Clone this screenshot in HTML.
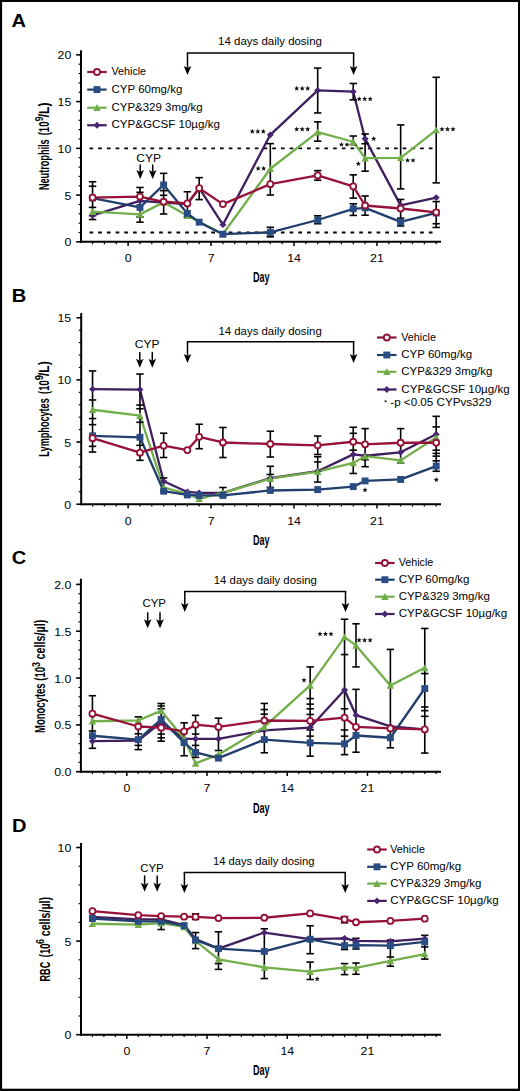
<!DOCTYPE html><html><head><meta charset="utf-8"><style>html,body{margin:0;padding:0;background:#fff;}svg{display:block;}</style></head><body>
<svg width="520" height="1091" viewBox="0 0 520 1091" font-family='"Liberation Sans", sans-serif'>
<rect x="0" y="0" width="520" height="1091" fill="#fff"/>
<text transform="translate(11.6,26.6) scale(1.14,1)" font-size="17.6" font-weight="bold">A</text>
<line x1="81.00" y1="50.20" x2="81.00" y2="242.85" stroke="#000" stroke-width="2.0"/>
<line x1="76.20" y1="241.85" x2="81.00" y2="241.85" stroke="#000" stroke-width="1.6"/>
<line x1="78.60" y1="232.50" x2="81.00" y2="232.50" stroke="#000" stroke-width="1.2"/>
<line x1="78.60" y1="223.15" x2="81.00" y2="223.15" stroke="#000" stroke-width="1.2"/>
<line x1="78.60" y1="213.80" x2="81.00" y2="213.80" stroke="#000" stroke-width="1.2"/>
<line x1="78.60" y1="204.45" x2="81.00" y2="204.45" stroke="#000" stroke-width="1.2"/>
<line x1="76.20" y1="195.10" x2="81.00" y2="195.10" stroke="#000" stroke-width="1.6"/>
<line x1="78.60" y1="185.75" x2="81.00" y2="185.75" stroke="#000" stroke-width="1.2"/>
<line x1="78.60" y1="176.40" x2="81.00" y2="176.40" stroke="#000" stroke-width="1.2"/>
<line x1="78.60" y1="167.05" x2="81.00" y2="167.05" stroke="#000" stroke-width="1.2"/>
<line x1="78.60" y1="157.70" x2="81.00" y2="157.70" stroke="#000" stroke-width="1.2"/>
<line x1="76.20" y1="148.35" x2="81.00" y2="148.35" stroke="#000" stroke-width="1.6"/>
<line x1="78.60" y1="139.00" x2="81.00" y2="139.00" stroke="#000" stroke-width="1.2"/>
<line x1="78.60" y1="129.65" x2="81.00" y2="129.65" stroke="#000" stroke-width="1.2"/>
<line x1="78.60" y1="120.30" x2="81.00" y2="120.30" stroke="#000" stroke-width="1.2"/>
<line x1="78.60" y1="110.95" x2="81.00" y2="110.95" stroke="#000" stroke-width="1.2"/>
<line x1="76.20" y1="101.60" x2="81.00" y2="101.60" stroke="#000" stroke-width="1.6"/>
<line x1="78.60" y1="92.25" x2="81.00" y2="92.25" stroke="#000" stroke-width="1.2"/>
<line x1="78.60" y1="82.90" x2="81.00" y2="82.90" stroke="#000" stroke-width="1.2"/>
<line x1="78.60" y1="73.55" x2="81.00" y2="73.55" stroke="#000" stroke-width="1.2"/>
<line x1="78.60" y1="64.20" x2="81.00" y2="64.20" stroke="#000" stroke-width="1.2"/>
<line x1="76.20" y1="54.85" x2="81.00" y2="54.85" stroke="#000" stroke-width="1.6"/>
<text transform="translate(71.3,246.35) scale(1.12,1)" font-size="11.0" text-anchor="end">0</text>
<text transform="translate(71.3,199.60) scale(1.12,1)" font-size="11.0" text-anchor="end">5</text>
<text transform="translate(71.3,152.85) scale(1.12,1)" font-size="11.0" text-anchor="end">10</text>
<text transform="translate(71.3,106.10) scale(1.12,1)" font-size="11.0" text-anchor="end">15</text>
<text transform="translate(71.3,59.35) scale(1.12,1)" font-size="11.0" text-anchor="end">20</text>
<line x1="80.00" y1="241.85" x2="441.00" y2="241.85" stroke="#000" stroke-width="2.0"/>
<line x1="92.55" y1="241.85" x2="92.55" y2="244.25" stroke="#000" stroke-width="1.2"/>
<line x1="104.40" y1="241.85" x2="104.40" y2="244.25" stroke="#000" stroke-width="1.2"/>
<line x1="116.25" y1="241.85" x2="116.25" y2="244.25" stroke="#000" stroke-width="1.2"/>
<line x1="128.10" y1="241.85" x2="128.10" y2="246.05" stroke="#000" stroke-width="1.5"/>
<line x1="139.95" y1="241.85" x2="139.95" y2="244.25" stroke="#000" stroke-width="1.2"/>
<line x1="151.80" y1="241.85" x2="151.80" y2="244.25" stroke="#000" stroke-width="1.2"/>
<line x1="163.65" y1="241.85" x2="163.65" y2="244.25" stroke="#000" stroke-width="1.2"/>
<line x1="175.50" y1="241.85" x2="175.50" y2="244.25" stroke="#000" stroke-width="1.2"/>
<line x1="187.35" y1="241.85" x2="187.35" y2="244.25" stroke="#000" stroke-width="1.2"/>
<line x1="199.20" y1="241.85" x2="199.20" y2="244.25" stroke="#000" stroke-width="1.2"/>
<line x1="211.05" y1="241.85" x2="211.05" y2="246.05" stroke="#000" stroke-width="1.5"/>
<line x1="222.90" y1="241.85" x2="222.90" y2="244.25" stroke="#000" stroke-width="1.2"/>
<line x1="234.75" y1="241.85" x2="234.75" y2="244.25" stroke="#000" stroke-width="1.2"/>
<line x1="246.60" y1="241.85" x2="246.60" y2="244.25" stroke="#000" stroke-width="1.2"/>
<line x1="258.45" y1="241.85" x2="258.45" y2="244.25" stroke="#000" stroke-width="1.2"/>
<line x1="270.30" y1="241.85" x2="270.30" y2="244.25" stroke="#000" stroke-width="1.2"/>
<line x1="282.15" y1="241.85" x2="282.15" y2="244.25" stroke="#000" stroke-width="1.2"/>
<line x1="294.00" y1="241.85" x2="294.00" y2="246.05" stroke="#000" stroke-width="1.5"/>
<line x1="305.85" y1="241.85" x2="305.85" y2="244.25" stroke="#000" stroke-width="1.2"/>
<line x1="317.70" y1="241.85" x2="317.70" y2="244.25" stroke="#000" stroke-width="1.2"/>
<line x1="329.55" y1="241.85" x2="329.55" y2="244.25" stroke="#000" stroke-width="1.2"/>
<line x1="341.40" y1="241.85" x2="341.40" y2="244.25" stroke="#000" stroke-width="1.2"/>
<line x1="353.25" y1="241.85" x2="353.25" y2="244.25" stroke="#000" stroke-width="1.2"/>
<line x1="365.10" y1="241.85" x2="365.10" y2="244.25" stroke="#000" stroke-width="1.2"/>
<line x1="376.95" y1="241.85" x2="376.95" y2="246.05" stroke="#000" stroke-width="1.5"/>
<line x1="388.80" y1="241.85" x2="388.80" y2="244.25" stroke="#000" stroke-width="1.2"/>
<line x1="400.65" y1="241.85" x2="400.65" y2="244.25" stroke="#000" stroke-width="1.2"/>
<line x1="412.50" y1="241.85" x2="412.50" y2="244.25" stroke="#000" stroke-width="1.2"/>
<line x1="424.35" y1="241.85" x2="424.35" y2="244.25" stroke="#000" stroke-width="1.2"/>
<line x1="436.20" y1="241.85" x2="436.20" y2="244.25" stroke="#000" stroke-width="1.2"/>
<text transform="translate(128.10,262.0) scale(1.12,1)" font-size="11.0" text-anchor="middle">0</text>
<text transform="translate(211.05,262.0) scale(1.12,1)" font-size="11.0" text-anchor="middle">7</text>
<text transform="translate(294.00,262.0) scale(1.12,1)" font-size="11.0" text-anchor="middle">14</text>
<text transform="translate(376.95,262.0) scale(1.12,1)" font-size="11.0" text-anchor="middle">21</text>
<text x="252.90" y="282.4" font-size="14.6" font-weight="bold" textLength="16.6" lengthAdjust="spacingAndGlyphs">Day</text>
<g transform="translate(48.75,0) rotate(-90)" font-weight="bold">
<text x="-190.05" y="0" font-size="14.8" textLength="50.70" lengthAdjust="spacingAndGlyphs">Neutrophils</text>
<text x="-135.35" y="0" font-size="14.8" textLength="13.90" lengthAdjust="spacingAndGlyphs">(10</text>
<text x="-121.25" y="-5.4" font-size="10" textLength="4.70" lengthAdjust="spacingAndGlyphs">9</text>
<text x="-117.25" y="0" font-size="14.8" textLength="14.80" lengthAdjust="spacingAndGlyphs">/L)</text>
</g>
<line x1="89.5" y1="148.35" x2="436.70" y2="148.35" stroke="#000" stroke-width="1.8" stroke-dasharray="3.7,5.0"/>
<line x1="89.5" y1="232.50" x2="436.70" y2="232.50" stroke="#000" stroke-width="1.8" stroke-dasharray="3.7,5.0"/>
<line x1="186.75" y1="53.10" x2="354.35" y2="53.10" stroke="#000" stroke-width="1.5"/>
<line x1="187.50" y1="53.10" x2="187.50" y2="68.10" stroke="#000" stroke-width="1.5"/>
<polygon points="183.70,66.10 187.50,68.10 191.30,66.10 187.50,75.10" fill="#000"/>
<line x1="353.60" y1="53.10" x2="353.60" y2="68.10" stroke="#000" stroke-width="1.5"/>
<polygon points="349.80,66.10 353.60,68.10 357.40,66.10 353.60,75.10" fill="#000"/>
<text x="218.10" y="45.2" font-size="10.2" textLength="103.8" lengthAdjust="spacingAndGlyphs">14 days daily dosing</text>
<line x1="140.20" y1="164.50" x2="140.20" y2="172.00" stroke="#000" stroke-width="1.5"/>
<polygon points="136.40,170.00 140.20,172.00 144.00,170.00 140.20,179.00" fill="#000"/>
<line x1="152.70" y1="164.50" x2="152.70" y2="172.00" stroke="#000" stroke-width="1.5"/>
<polygon points="148.90,170.00 152.70,172.00 156.50,170.00 152.70,179.00" fill="#000"/>
<text x="136.30" y="161.5" font-size="10.3" textLength="24.7" lengthAdjust="spacingAndGlyphs">CYP</text>
<polyline points="92.55,215.32 139.95,200.83 163.65,202.70 187.35,204.10 199.20,188.20 222.90,224.67 270.30,134.82 317.70,90.40 353.25,91.71 365.10,138.84 400.65,205.41 436.20,197.56" fill="none" stroke="#3F1F5E" stroke-width="2.3" stroke-linejoin="round"/>
<polyline points="92.55,211.58 139.95,214.38 163.65,202.23 187.35,215.79 222.90,234.02 270.30,168.76 317.70,132.11 353.25,141.74 365.10,158.10 400.65,157.82 436.20,130.05" fill="none" stroke="#72AE4A" stroke-width="2.3" stroke-linejoin="round"/>
<polyline points="92.55,198.02 139.95,207.37 163.65,184.93 187.35,213.45 199.20,222.15 222.90,234.21 270.30,232.34 317.70,220.00 353.25,208.78 365.10,207.84 400.65,221.87 436.20,212.98" fill="none" stroke="#213E6C" stroke-width="2.3" stroke-linejoin="round"/>
<polyline points="92.55,197.56 139.95,196.62 163.65,201.76 187.35,203.45 199.20,188.20 222.90,204.10 270.30,184.18 317.70,175.40 353.25,186.34 365.10,205.50 400.65,208.49 436.20,212.33" fill="none" stroke="#971138" stroke-width="2.3" stroke-linejoin="round"/>
<line x1="92.55" y1="181.75" x2="92.55" y2="219.53" stroke="#000" stroke-width="1.6"/>
<line x1="88.85" y1="181.75" x2="96.25" y2="181.75" stroke="#000" stroke-width="1.6"/>
<line x1="88.85" y1="186.24" x2="96.25" y2="186.24" stroke="#000" stroke-width="1.6"/>
<line x1="88.85" y1="207.37" x2="96.25" y2="207.37" stroke="#000" stroke-width="1.6"/>
<line x1="88.85" y1="215.69" x2="96.25" y2="215.69" stroke="#000" stroke-width="1.6"/>
<line x1="88.85" y1="219.53" x2="96.25" y2="219.53" stroke="#000" stroke-width="1.6"/>
<line x1="139.95" y1="187.46" x2="139.95" y2="222.15" stroke="#000" stroke-width="1.6"/>
<line x1="136.25" y1="187.46" x2="143.65" y2="187.46" stroke="#000" stroke-width="1.6"/>
<line x1="136.25" y1="192.32" x2="143.65" y2="192.32" stroke="#000" stroke-width="1.6"/>
<line x1="136.25" y1="217.00" x2="143.65" y2="217.00" stroke="#000" stroke-width="1.6"/>
<line x1="136.25" y1="222.15" x2="143.65" y2="222.15" stroke="#000" stroke-width="1.6"/>
<line x1="163.65" y1="173.34" x2="163.65" y2="214.01" stroke="#000" stroke-width="1.6"/>
<line x1="159.95" y1="173.34" x2="167.35" y2="173.34" stroke="#000" stroke-width="1.6"/>
<line x1="159.95" y1="190.64" x2="167.35" y2="190.64" stroke="#000" stroke-width="1.6"/>
<line x1="159.95" y1="195.31" x2="167.35" y2="195.31" stroke="#000" stroke-width="1.6"/>
<line x1="159.95" y1="214.01" x2="167.35" y2="214.01" stroke="#000" stroke-width="1.6"/>
<line x1="187.35" y1="191.76" x2="187.35" y2="217.19" stroke="#000" stroke-width="1.6"/>
<line x1="183.65" y1="191.76" x2="191.05" y2="191.76" stroke="#000" stroke-width="1.6"/>
<line x1="183.65" y1="217.19" x2="191.05" y2="217.19" stroke="#000" stroke-width="1.6"/>
<line x1="199.20" y1="177.64" x2="199.20" y2="199.61" stroke="#000" stroke-width="1.6"/>
<line x1="195.50" y1="177.64" x2="202.90" y2="177.64" stroke="#000" stroke-width="1.6"/>
<line x1="195.50" y1="199.61" x2="202.90" y2="199.61" stroke="#000" stroke-width="1.6"/>
<line x1="270.30" y1="143.61" x2="270.30" y2="195.03" stroke="#000" stroke-width="1.6"/>
<line x1="266.60" y1="143.61" x2="274.00" y2="143.61" stroke="#000" stroke-width="1.6"/>
<line x1="266.60" y1="195.03" x2="274.00" y2="195.03" stroke="#000" stroke-width="1.6"/>
<line x1="270.30" y1="227.29" x2="270.30" y2="236.82" stroke="#000" stroke-width="1.6"/>
<line x1="266.60" y1="227.29" x2="274.00" y2="227.29" stroke="#000" stroke-width="1.6"/>
<line x1="266.60" y1="236.82" x2="274.00" y2="236.82" stroke="#000" stroke-width="1.6"/>
<line x1="317.70" y1="68.06" x2="317.70" y2="112.94" stroke="#000" stroke-width="1.6"/>
<line x1="314.00" y1="68.06" x2="321.40" y2="68.06" stroke="#000" stroke-width="1.6"/>
<line x1="314.00" y1="112.94" x2="321.40" y2="112.94" stroke="#000" stroke-width="1.6"/>
<line x1="317.70" y1="121.82" x2="317.70" y2="141.17" stroke="#000" stroke-width="1.6"/>
<line x1="314.00" y1="121.82" x2="321.40" y2="121.82" stroke="#000" stroke-width="1.6"/>
<line x1="314.00" y1="141.17" x2="321.40" y2="141.17" stroke="#000" stroke-width="1.6"/>
<line x1="317.70" y1="170.63" x2="317.70" y2="180.26" stroke="#000" stroke-width="1.6"/>
<line x1="314.00" y1="170.63" x2="321.40" y2="170.63" stroke="#000" stroke-width="1.6"/>
<line x1="314.00" y1="180.26" x2="321.40" y2="180.26" stroke="#000" stroke-width="1.6"/>
<line x1="317.70" y1="215.79" x2="317.70" y2="223.74" stroke="#000" stroke-width="1.6"/>
<line x1="314.00" y1="215.79" x2="321.40" y2="215.79" stroke="#000" stroke-width="1.6"/>
<line x1="314.00" y1="223.74" x2="321.40" y2="223.74" stroke="#000" stroke-width="1.6"/>
<line x1="353.25" y1="83.49" x2="353.25" y2="99.85" stroke="#000" stroke-width="1.6"/>
<line x1="349.55" y1="83.49" x2="356.95" y2="83.49" stroke="#000" stroke-width="1.6"/>
<line x1="349.55" y1="99.85" x2="356.95" y2="99.85" stroke="#000" stroke-width="1.6"/>
<line x1="353.25" y1="136.03" x2="353.25" y2="144.63" stroke="#000" stroke-width="1.6"/>
<line x1="349.55" y1="136.03" x2="356.95" y2="136.03" stroke="#000" stroke-width="1.6"/>
<line x1="349.55" y1="144.63" x2="356.95" y2="144.63" stroke="#000" stroke-width="1.6"/>
<line x1="353.25" y1="174.83" x2="353.25" y2="198.12" stroke="#000" stroke-width="1.6"/>
<line x1="349.55" y1="174.83" x2="356.95" y2="174.83" stroke="#000" stroke-width="1.6"/>
<line x1="349.55" y1="198.12" x2="356.95" y2="198.12" stroke="#000" stroke-width="1.6"/>
<line x1="353.25" y1="203.82" x2="353.25" y2="215.41" stroke="#000" stroke-width="1.6"/>
<line x1="349.55" y1="203.82" x2="356.95" y2="203.82" stroke="#000" stroke-width="1.6"/>
<line x1="349.55" y1="215.41" x2="356.95" y2="215.41" stroke="#000" stroke-width="1.6"/>
<line x1="365.10" y1="133.98" x2="365.10" y2="171.19" stroke="#000" stroke-width="1.6"/>
<line x1="361.40" y1="133.98" x2="368.80" y2="133.98" stroke="#000" stroke-width="1.6"/>
<line x1="361.40" y1="143.70" x2="368.80" y2="143.70" stroke="#000" stroke-width="1.6"/>
<line x1="361.40" y1="171.19" x2="368.80" y2="171.19" stroke="#000" stroke-width="1.6"/>
<line x1="365.10" y1="195.97" x2="365.10" y2="215.23" stroke="#000" stroke-width="1.6"/>
<line x1="361.40" y1="195.97" x2="368.80" y2="195.97" stroke="#000" stroke-width="1.6"/>
<line x1="361.40" y1="215.23" x2="368.80" y2="215.23" stroke="#000" stroke-width="1.6"/>
<line x1="400.65" y1="124.91" x2="400.65" y2="188.86" stroke="#000" stroke-width="1.6"/>
<line x1="396.95" y1="124.91" x2="404.35" y2="124.91" stroke="#000" stroke-width="1.6"/>
<line x1="396.95" y1="188.86" x2="404.35" y2="188.86" stroke="#000" stroke-width="1.6"/>
<line x1="400.65" y1="199.43" x2="400.65" y2="225.98" stroke="#000" stroke-width="1.6"/>
<line x1="396.95" y1="199.43" x2="404.35" y2="199.43" stroke="#000" stroke-width="1.6"/>
<line x1="396.95" y1="218.12" x2="404.35" y2="218.12" stroke="#000" stroke-width="1.6"/>
<line x1="396.95" y1="225.98" x2="404.35" y2="225.98" stroke="#000" stroke-width="1.6"/>
<line x1="436.20" y1="77.31" x2="436.20" y2="182.88" stroke="#000" stroke-width="1.6"/>
<line x1="432.50" y1="77.31" x2="439.90" y2="77.31" stroke="#000" stroke-width="1.6"/>
<line x1="432.50" y1="182.88" x2="439.90" y2="182.88" stroke="#000" stroke-width="1.6"/>
<line x1="436.20" y1="201.58" x2="436.20" y2="227.47" stroke="#000" stroke-width="1.6"/>
<line x1="432.50" y1="201.58" x2="439.90" y2="201.58" stroke="#000" stroke-width="1.6"/>
<line x1="432.50" y1="223.74" x2="439.90" y2="223.74" stroke="#000" stroke-width="1.6"/>
<line x1="432.50" y1="227.47" x2="439.90" y2="227.47" stroke="#000" stroke-width="1.6"/>
<polygon points="92.55,211.92 96.05,215.32 92.55,218.72 89.05,215.32" fill="#482573"/>
<polygon points="139.95,197.43 143.45,200.83 139.95,204.23 136.45,200.83" fill="#482573"/>
<polygon points="163.65,199.30 167.15,202.70 163.65,206.10 160.15,202.70" fill="#482573"/>
<polygon points="187.35,200.70 190.85,204.10 187.35,207.50 183.85,204.10" fill="#482573"/>
<polygon points="199.20,184.80 202.70,188.20 199.20,191.60 195.70,188.20" fill="#482573"/>
<polygon points="222.90,221.27 226.40,224.67 222.90,228.07 219.40,224.67" fill="#482573"/>
<polygon points="270.30,131.42 273.80,134.82 270.30,138.22 266.80,134.82" fill="#482573"/>
<polygon points="317.70,87.00 321.20,90.40 317.70,93.80 314.20,90.40" fill="#482573"/>
<polygon points="353.25,88.31 356.75,91.71 353.25,95.11 349.75,91.71" fill="#482573"/>
<polygon points="365.10,135.44 368.60,138.84 365.10,142.24 361.60,138.84" fill="#482573"/>
<polygon points="400.65,202.01 404.15,205.41 400.65,208.81 397.15,205.41" fill="#482573"/>
<polygon points="436.20,194.16 439.70,197.56 436.20,200.96 432.70,197.56" fill="#482573"/>
<polygon points="88.85,214.88 96.25,214.88 92.55,207.98" fill="#70AC48"/>
<polygon points="136.25,217.69 143.65,217.69 139.95,210.78" fill="#70AC48"/>
<polygon points="159.95,205.53 167.35,205.53 163.65,198.63" fill="#70AC48"/>
<polygon points="183.65,219.09 191.05,219.09 187.35,212.19" fill="#70AC48"/>
<polygon points="219.20,237.32 226.60,237.32 222.90,230.42" fill="#70AC48"/>
<polygon points="266.60,172.06 274.00,172.06 270.30,165.16" fill="#70AC48"/>
<polygon points="314.00,135.41 321.40,135.41 317.70,128.51" fill="#70AC48"/>
<polygon points="349.55,145.04 356.95,145.04 353.25,138.14" fill="#70AC48"/>
<polygon points="361.40,161.40 368.80,161.40 365.10,154.50" fill="#70AC48"/>
<polygon points="396.95,161.12 404.35,161.12 400.65,154.22" fill="#70AC48"/>
<polygon points="432.50,133.35 439.90,133.35 436.20,126.45" fill="#70AC48"/>
<rect x="89.10" y="194.57" width="6.90" height="6.90" fill="#2A4C84"/>
<rect x="136.50" y="203.92" width="6.90" height="6.90" fill="#2A4C84"/>
<rect x="160.20" y="181.48" width="6.90" height="6.90" fill="#2A4C84"/>
<rect x="183.90" y="210.00" width="6.90" height="6.90" fill="#2A4C84"/>
<rect x="195.75" y="218.70" width="6.90" height="6.90" fill="#2A4C84"/>
<rect x="219.45" y="230.76" width="6.90" height="6.90" fill="#2A4C84"/>
<rect x="266.85" y="228.89" width="6.90" height="6.90" fill="#2A4C84"/>
<rect x="314.25" y="216.55" width="6.90" height="6.90" fill="#2A4C84"/>
<rect x="349.80" y="205.33" width="6.90" height="6.90" fill="#2A4C84"/>
<rect x="361.65" y="204.39" width="6.90" height="6.90" fill="#2A4C84"/>
<rect x="397.20" y="218.42" width="6.90" height="6.90" fill="#2A4C84"/>
<rect x="432.75" y="209.53" width="6.90" height="6.90" fill="#2A4C84"/>
<circle cx="92.55" cy="197.56" r="3.00" fill="#fff" stroke="#931236" stroke-width="1.8"/>
<circle cx="139.95" cy="196.62" r="3.00" fill="#fff" stroke="#931236" stroke-width="1.8"/>
<circle cx="163.65" cy="201.76" r="3.00" fill="#fff" stroke="#931236" stroke-width="1.8"/>
<circle cx="187.35" cy="203.45" r="3.00" fill="#fff" stroke="#931236" stroke-width="1.8"/>
<circle cx="199.20" cy="188.20" r="3.00" fill="#fff" stroke="#931236" stroke-width="1.8"/>
<circle cx="222.90" cy="204.10" r="3.00" fill="#fff" stroke="#931236" stroke-width="1.8"/>
<circle cx="270.30" cy="184.18" r="3.00" fill="#fff" stroke="#931236" stroke-width="1.8"/>
<circle cx="317.70" cy="175.40" r="3.00" fill="#fff" stroke="#931236" stroke-width="1.8"/>
<circle cx="353.25" cy="186.34" r="3.00" fill="#fff" stroke="#931236" stroke-width="1.8"/>
<circle cx="365.10" cy="205.50" r="3.00" fill="#fff" stroke="#931236" stroke-width="1.8"/>
<circle cx="400.65" cy="208.49" r="3.00" fill="#fff" stroke="#931236" stroke-width="1.8"/>
<circle cx="436.20" cy="212.33" r="3.00" fill="#fff" stroke="#931236" stroke-width="1.8"/>
<polygon points="252.30,128.80 253.01,130.53 254.87,130.67 253.44,131.87 253.89,133.68 252.30,132.70 250.71,133.68 251.16,131.87 249.73,130.67 251.59,130.53" fill="#111"/>
<polygon points="257.80,128.80 258.51,130.53 260.37,130.67 258.94,131.87 259.39,133.68 257.80,132.70 256.21,133.68 256.66,131.87 255.23,130.67 257.09,130.53" fill="#111"/>
<polygon points="263.30,128.80 264.01,130.53 265.87,130.67 264.44,131.87 264.89,133.68 263.30,132.70 261.71,133.68 262.16,131.87 260.73,130.67 262.59,130.53" fill="#111"/>
<polygon points="258.15,165.80 258.86,167.53 260.72,167.67 259.29,168.87 259.74,170.68 258.15,169.70 256.56,170.68 257.01,168.87 255.58,167.67 257.44,167.53" fill="#111"/>
<polygon points="263.65,165.80 264.36,167.53 266.22,167.67 264.79,168.87 265.24,170.68 263.65,169.70 262.06,170.68 262.51,168.87 261.08,167.67 262.94,167.53" fill="#111"/>
<polygon points="296.70,85.80 297.41,87.53 299.27,87.67 297.84,88.87 298.29,90.68 296.70,89.70 295.11,90.68 295.56,88.87 294.13,87.67 295.99,87.53" fill="#111"/>
<polygon points="302.20,85.80 302.91,87.53 304.77,87.67 303.34,88.87 303.79,90.68 302.20,89.70 300.61,90.68 301.06,88.87 299.63,87.67 301.49,87.53" fill="#111"/>
<polygon points="307.70,85.80 308.41,87.53 310.27,87.67 308.84,88.87 309.29,90.68 307.70,89.70 306.11,90.68 306.56,88.87 305.13,87.67 306.99,87.53" fill="#111"/>
<polygon points="296.70,126.50 297.41,128.23 299.27,128.37 297.84,129.57 298.29,131.38 296.70,130.40 295.11,131.38 295.56,129.57 294.13,128.37 295.99,128.23" fill="#111"/>
<polygon points="302.20,126.50 302.91,128.23 304.77,128.37 303.34,129.57 303.79,131.38 302.20,130.40 300.61,131.38 301.06,129.57 299.63,128.37 301.49,128.23" fill="#111"/>
<polygon points="307.70,126.50 308.41,128.23 310.27,128.37 308.84,129.57 309.29,131.38 307.70,130.40 306.11,131.38 306.56,129.57 305.13,128.37 306.99,128.23" fill="#111"/>
<polygon points="359.20,96.30 359.91,98.03 361.77,98.17 360.34,99.37 360.79,101.18 359.20,100.20 357.61,101.18 358.06,99.37 356.63,98.17 358.49,98.03" fill="#111"/>
<polygon points="364.70,96.30 365.41,98.03 367.27,98.17 365.84,99.37 366.29,101.18 364.70,100.20 363.11,101.18 363.56,99.37 362.13,98.17 363.99,98.03" fill="#111"/>
<polygon points="370.20,96.30 370.91,98.03 372.77,98.17 371.34,99.37 371.79,101.18 370.20,100.20 368.61,101.18 369.06,99.37 367.63,98.17 369.49,98.03" fill="#111"/>
<polygon points="341.45,141.90 342.16,143.63 344.02,143.77 342.59,144.97 343.04,146.78 341.45,145.80 339.86,146.78 340.31,144.97 338.88,143.77 340.74,143.63" fill="#111"/>
<polygon points="346.95,141.90 347.66,143.63 349.52,143.77 348.09,144.97 348.54,146.78 346.95,145.80 345.36,146.78 345.81,144.97 344.38,143.77 346.24,143.63" fill="#111"/>
<polygon points="373.70,136.10 374.41,137.83 376.27,137.97 374.84,139.17 375.29,140.98 373.70,140.00 372.11,140.98 372.56,139.17 371.13,137.97 372.99,137.83" fill="#111"/>
<polygon points="358.30,161.10 359.01,162.83 360.87,162.97 359.44,164.17 359.89,165.98 358.30,165.00 356.71,165.98 357.16,164.17 355.73,162.97 357.59,162.83" fill="#111"/>
<polygon points="407.55,157.70 408.26,159.43 410.12,159.57 408.69,160.77 409.14,162.58 407.55,161.60 405.96,162.58 406.41,160.77 404.98,159.57 406.84,159.43" fill="#111"/>
<polygon points="413.05,157.70 413.76,159.43 415.62,159.57 414.19,160.77 414.64,162.58 413.05,161.60 411.46,162.58 411.91,160.77 410.48,159.57 412.34,159.43" fill="#111"/>
<polygon points="442.00,126.50 442.71,128.23 444.57,128.37 443.14,129.57 443.59,131.38 442.00,130.40 440.41,131.38 440.86,129.57 439.43,128.37 441.29,128.23" fill="#111"/>
<polygon points="447.50,126.50 448.21,128.23 450.07,128.37 448.64,129.57 449.09,131.38 447.50,130.40 445.91,131.38 446.36,129.57 444.93,128.37 446.79,128.23" fill="#111"/>
<polygon points="453.00,126.50 453.71,128.23 455.57,128.37 454.14,129.57 454.59,131.38 453.00,130.40 451.41,131.38 451.86,129.57 450.43,128.37 452.29,128.23" fill="#111"/>
<line x1="87.20" y1="72.00" x2="106.70" y2="72.00" stroke="#931236" stroke-width="2.2"/>
<circle cx="97.00" cy="72.00" r="3.00" fill="#fff" stroke="#931236" stroke-width="1.8"/>
<text x="111.5" y="75.00" font-size="11.0" textLength="34.6" lengthAdjust="spacingAndGlyphs">Vehicle</text>
<line x1="87.20" y1="89.60" x2="106.70" y2="89.60" stroke="#213E6C" stroke-width="2.2"/>
<rect x="93.55" y="86.15" width="6.90" height="6.90" fill="#2A4C84"/>
<text x="111.5" y="92.60" font-size="11.0" textLength="70.8" lengthAdjust="spacingAndGlyphs">CYP 60mg/kg</text>
<line x1="87.20" y1="107.70" x2="106.70" y2="107.70" stroke="#72AE4A" stroke-width="2.2"/>
<polygon points="93.30,111.00 100.70,111.00 97.00,104.10" fill="#70AC48"/>
<text x="111.5" y="110.70" font-size="11.0" textLength="91.1" lengthAdjust="spacingAndGlyphs">CYP&amp;329 3mg/kg</text>
<line x1="87.20" y1="125.25" x2="106.70" y2="125.25" stroke="#3F1F5E" stroke-width="2.2"/>
<polygon points="97.00,121.85 100.50,125.25 97.00,128.65 93.50,125.25" fill="#482573"/>
<text x="111.5" y="128.25" font-size="11.0" textLength="108.4" lengthAdjust="spacingAndGlyphs">CYP&amp;GCSF 10µg/kg</text>
<text transform="translate(11.8,301.5) scale(1.14,1)" font-size="17.6" font-weight="bold">B</text>
<line x1="81.20" y1="313.00" x2="81.20" y2="505.20" stroke="#000" stroke-width="2.0"/>
<line x1="76.40" y1="504.20" x2="81.20" y2="504.20" stroke="#000" stroke-width="1.6"/>
<line x1="78.80" y1="491.77" x2="81.20" y2="491.77" stroke="#000" stroke-width="1.2"/>
<line x1="78.80" y1="479.34" x2="81.20" y2="479.34" stroke="#000" stroke-width="1.2"/>
<line x1="78.80" y1="466.91" x2="81.20" y2="466.91" stroke="#000" stroke-width="1.2"/>
<line x1="78.80" y1="454.48" x2="81.20" y2="454.48" stroke="#000" stroke-width="1.2"/>
<line x1="76.40" y1="442.05" x2="81.20" y2="442.05" stroke="#000" stroke-width="1.6"/>
<line x1="78.80" y1="429.62" x2="81.20" y2="429.62" stroke="#000" stroke-width="1.2"/>
<line x1="78.80" y1="417.19" x2="81.20" y2="417.19" stroke="#000" stroke-width="1.2"/>
<line x1="78.80" y1="404.76" x2="81.20" y2="404.76" stroke="#000" stroke-width="1.2"/>
<line x1="78.80" y1="392.33" x2="81.20" y2="392.33" stroke="#000" stroke-width="1.2"/>
<line x1="76.40" y1="379.90" x2="81.20" y2="379.90" stroke="#000" stroke-width="1.6"/>
<line x1="78.80" y1="367.47" x2="81.20" y2="367.47" stroke="#000" stroke-width="1.2"/>
<line x1="78.80" y1="355.04" x2="81.20" y2="355.04" stroke="#000" stroke-width="1.2"/>
<line x1="78.80" y1="342.61" x2="81.20" y2="342.61" stroke="#000" stroke-width="1.2"/>
<line x1="78.80" y1="330.18" x2="81.20" y2="330.18" stroke="#000" stroke-width="1.2"/>
<line x1="76.40" y1="317.75" x2="81.20" y2="317.75" stroke="#000" stroke-width="1.6"/>
<text transform="translate(71.2,508.70) scale(1.12,1)" font-size="11.0" text-anchor="end">0</text>
<text transform="translate(71.2,446.55) scale(1.12,1)" font-size="11.0" text-anchor="end">5</text>
<text transform="translate(71.2,384.40) scale(1.12,1)" font-size="11.0" text-anchor="end">10</text>
<text transform="translate(71.2,322.25) scale(1.12,1)" font-size="11.0" text-anchor="end">15</text>
<line x1="80.20" y1="504.20" x2="441.00" y2="504.20" stroke="#000" stroke-width="2.0"/>
<line x1="92.55" y1="504.20" x2="92.55" y2="506.60" stroke="#000" stroke-width="1.2"/>
<line x1="104.40" y1="504.20" x2="104.40" y2="506.60" stroke="#000" stroke-width="1.2"/>
<line x1="116.25" y1="504.20" x2="116.25" y2="506.60" stroke="#000" stroke-width="1.2"/>
<line x1="128.10" y1="504.20" x2="128.10" y2="508.40" stroke="#000" stroke-width="1.5"/>
<line x1="139.95" y1="504.20" x2="139.95" y2="506.60" stroke="#000" stroke-width="1.2"/>
<line x1="151.80" y1="504.20" x2="151.80" y2="506.60" stroke="#000" stroke-width="1.2"/>
<line x1="163.65" y1="504.20" x2="163.65" y2="506.60" stroke="#000" stroke-width="1.2"/>
<line x1="175.50" y1="504.20" x2="175.50" y2="506.60" stroke="#000" stroke-width="1.2"/>
<line x1="187.35" y1="504.20" x2="187.35" y2="506.60" stroke="#000" stroke-width="1.2"/>
<line x1="199.20" y1="504.20" x2="199.20" y2="506.60" stroke="#000" stroke-width="1.2"/>
<line x1="211.05" y1="504.20" x2="211.05" y2="508.40" stroke="#000" stroke-width="1.5"/>
<line x1="222.90" y1="504.20" x2="222.90" y2="506.60" stroke="#000" stroke-width="1.2"/>
<line x1="234.75" y1="504.20" x2="234.75" y2="506.60" stroke="#000" stroke-width="1.2"/>
<line x1="246.60" y1="504.20" x2="246.60" y2="506.60" stroke="#000" stroke-width="1.2"/>
<line x1="258.45" y1="504.20" x2="258.45" y2="506.60" stroke="#000" stroke-width="1.2"/>
<line x1="270.30" y1="504.20" x2="270.30" y2="506.60" stroke="#000" stroke-width="1.2"/>
<line x1="282.15" y1="504.20" x2="282.15" y2="506.60" stroke="#000" stroke-width="1.2"/>
<line x1="294.00" y1="504.20" x2="294.00" y2="508.40" stroke="#000" stroke-width="1.5"/>
<line x1="305.85" y1="504.20" x2="305.85" y2="506.60" stroke="#000" stroke-width="1.2"/>
<line x1="317.70" y1="504.20" x2="317.70" y2="506.60" stroke="#000" stroke-width="1.2"/>
<line x1="329.55" y1="504.20" x2="329.55" y2="506.60" stroke="#000" stroke-width="1.2"/>
<line x1="341.40" y1="504.20" x2="341.40" y2="506.60" stroke="#000" stroke-width="1.2"/>
<line x1="353.25" y1="504.20" x2="353.25" y2="506.60" stroke="#000" stroke-width="1.2"/>
<line x1="365.10" y1="504.20" x2="365.10" y2="506.60" stroke="#000" stroke-width="1.2"/>
<line x1="376.95" y1="504.20" x2="376.95" y2="508.40" stroke="#000" stroke-width="1.5"/>
<line x1="388.80" y1="504.20" x2="388.80" y2="506.60" stroke="#000" stroke-width="1.2"/>
<line x1="400.65" y1="504.20" x2="400.65" y2="506.60" stroke="#000" stroke-width="1.2"/>
<line x1="412.50" y1="504.20" x2="412.50" y2="506.60" stroke="#000" stroke-width="1.2"/>
<line x1="424.35" y1="504.20" x2="424.35" y2="506.60" stroke="#000" stroke-width="1.2"/>
<line x1="436.20" y1="504.20" x2="436.20" y2="506.60" stroke="#000" stroke-width="1.2"/>
<text transform="translate(128.10,524.6) scale(1.12,1)" font-size="11.0" text-anchor="middle">0</text>
<text transform="translate(211.05,524.6) scale(1.12,1)" font-size="11.0" text-anchor="middle">7</text>
<text transform="translate(294.00,524.6) scale(1.12,1)" font-size="11.0" text-anchor="middle">14</text>
<text transform="translate(376.95,524.6) scale(1.12,1)" font-size="11.0" text-anchor="middle">21</text>
<text x="252.90" y="544.7" font-size="14.6" font-weight="bold" textLength="16.6" lengthAdjust="spacingAndGlyphs">Day</text>
<g transform="translate(48.75,0) rotate(-90)" font-weight="bold">
<text x="-456.65" y="0" font-size="14.8" textLength="58.40" lengthAdjust="spacingAndGlyphs">Lymphocytes</text>
<text x="-393.95" y="0" font-size="14.8" textLength="13.60" lengthAdjust="spacingAndGlyphs">(10</text>
<text x="-380.15" y="-5.4" font-size="10" textLength="5.30" lengthAdjust="spacingAndGlyphs">9</text>
<text x="-376.05" y="0" font-size="14.8" textLength="15.00" lengthAdjust="spacingAndGlyphs">/L)</text>
</g>
<line x1="186.75" y1="341.70" x2="354.35" y2="341.70" stroke="#000" stroke-width="1.5"/>
<line x1="187.50" y1="341.70" x2="187.50" y2="356.00" stroke="#000" stroke-width="1.5"/>
<polygon points="183.70,354.00 187.50,356.00 191.30,354.00 187.50,363.00" fill="#000"/>
<line x1="353.60" y1="341.70" x2="353.60" y2="356.00" stroke="#000" stroke-width="1.5"/>
<polygon points="349.80,354.00 353.60,356.00 357.40,354.00 353.60,363.00" fill="#000"/>
<text x="218.40" y="335.1" font-size="10.2" textLength="103.4" lengthAdjust="spacingAndGlyphs">14 days daily dosing</text>
<line x1="139.80" y1="351.90" x2="139.80" y2="360.80" stroke="#000" stroke-width="1.5"/>
<polygon points="136.00,358.80 139.80,360.80 143.60,358.80 139.80,367.80" fill="#000"/>
<line x1="152.30" y1="351.90" x2="152.30" y2="360.80" stroke="#000" stroke-width="1.5"/>
<polygon points="148.50,358.80 152.30,360.80 156.10,358.80 152.30,367.80" fill="#000"/>
<text x="134.80" y="348.1" font-size="10.3" textLength="24.7" lengthAdjust="spacingAndGlyphs">CYP</text>
<polyline points="92.55,389.17 139.95,389.54 163.65,481.30 187.35,491.97 199.20,492.96 222.90,492.96 270.30,478.08 317.70,471.26 353.25,454.40 365.10,455.76 400.65,452.29 436.20,434.31" fill="none" stroke="#3F1F5E" stroke-width="2.3" stroke-linejoin="round"/>
<polyline points="92.55,409.76 139.95,415.58 163.65,487.50 187.35,493.95 199.20,498.79 222.90,492.96 270.30,478.70 317.70,471.63 353.25,462.95 365.10,456.13 400.65,460.35 436.20,437.53" fill="none" stroke="#72AE4A" stroke-width="2.3" stroke-linejoin="round"/>
<polyline points="92.55,435.80 139.95,437.28 163.65,491.22 187.35,494.94 199.20,495.44 222.90,495.44 270.30,490.48 317.70,489.61 353.25,486.64 365.10,480.93 400.65,479.44 436.20,466.05" fill="none" stroke="#213E6C" stroke-width="2.3" stroke-linejoin="round"/>
<polyline points="92.55,438.15 139.95,452.66 163.65,445.72 187.35,450.06 199.20,436.79 222.90,442.49 270.30,443.98 317.70,445.34 353.25,441.75 365.10,444.35 400.65,442.74 436.20,442.74" fill="none" stroke="#971138" stroke-width="2.3" stroke-linejoin="round"/>
<line x1="92.55" y1="370.94" x2="92.55" y2="452.04" stroke="#000" stroke-width="1.6"/>
<line x1="88.85" y1="370.94" x2="96.25" y2="370.94" stroke="#000" stroke-width="1.6"/>
<line x1="88.85" y1="399.96" x2="96.25" y2="399.96" stroke="#000" stroke-width="1.6"/>
<line x1="88.85" y1="418.56" x2="96.25" y2="418.56" stroke="#000" stroke-width="1.6"/>
<line x1="88.85" y1="424.64" x2="96.25" y2="424.64" stroke="#000" stroke-width="1.6"/>
<line x1="88.85" y1="446.34" x2="96.25" y2="446.34" stroke="#000" stroke-width="1.6"/>
<line x1="88.85" y1="452.04" x2="96.25" y2="452.04" stroke="#000" stroke-width="1.6"/>
<line x1="139.95" y1="374.04" x2="139.95" y2="460.35" stroke="#000" stroke-width="1.6"/>
<line x1="136.25" y1="374.04" x2="143.65" y2="374.04" stroke="#000" stroke-width="1.6"/>
<line x1="136.25" y1="405.04" x2="143.65" y2="405.04" stroke="#000" stroke-width="1.6"/>
<line x1="136.25" y1="408.76" x2="143.65" y2="408.76" stroke="#000" stroke-width="1.6"/>
<line x1="136.25" y1="422.28" x2="143.65" y2="422.28" stroke="#000" stroke-width="1.6"/>
<line x1="136.25" y1="445.34" x2="143.65" y2="445.34" stroke="#000" stroke-width="1.6"/>
<line x1="136.25" y1="460.35" x2="143.65" y2="460.35" stroke="#000" stroke-width="1.6"/>
<line x1="163.65" y1="433.19" x2="163.65" y2="457.50" stroke="#000" stroke-width="1.6"/>
<line x1="159.95" y1="433.19" x2="167.35" y2="433.19" stroke="#000" stroke-width="1.6"/>
<line x1="159.95" y1="457.50" x2="167.35" y2="457.50" stroke="#000" stroke-width="1.6"/>
<line x1="163.65" y1="477.96" x2="163.65" y2="491.10" stroke="#000" stroke-width="1.6"/>
<line x1="159.95" y1="477.96" x2="167.35" y2="477.96" stroke="#000" stroke-width="1.6"/>
<line x1="159.95" y1="491.10" x2="167.35" y2="491.10" stroke="#000" stroke-width="1.6"/>
<line x1="199.20" y1="424.26" x2="199.20" y2="448.69" stroke="#000" stroke-width="1.6"/>
<line x1="195.50" y1="424.26" x2="202.90" y2="424.26" stroke="#000" stroke-width="1.6"/>
<line x1="195.50" y1="448.69" x2="202.90" y2="448.69" stroke="#000" stroke-width="1.6"/>
<line x1="222.90" y1="427.49" x2="222.90" y2="457.50" stroke="#000" stroke-width="1.6"/>
<line x1="219.20" y1="427.49" x2="226.60" y2="427.49" stroke="#000" stroke-width="1.6"/>
<line x1="219.20" y1="457.50" x2="226.60" y2="457.50" stroke="#000" stroke-width="1.6"/>
<line x1="222.90" y1="487.50" x2="222.90" y2="496.06" stroke="#000" stroke-width="1.6"/>
<line x1="219.20" y1="487.50" x2="226.60" y2="487.50" stroke="#000" stroke-width="1.6"/>
<line x1="219.20" y1="496.06" x2="226.60" y2="496.06" stroke="#000" stroke-width="1.6"/>
<line x1="270.30" y1="431.21" x2="270.30" y2="457.00" stroke="#000" stroke-width="1.6"/>
<line x1="266.60" y1="431.21" x2="274.00" y2="431.21" stroke="#000" stroke-width="1.6"/>
<line x1="266.60" y1="457.00" x2="274.00" y2="457.00" stroke="#000" stroke-width="1.6"/>
<line x1="270.30" y1="466.30" x2="270.30" y2="487.38" stroke="#000" stroke-width="1.6"/>
<line x1="266.60" y1="466.30" x2="274.00" y2="466.30" stroke="#000" stroke-width="1.6"/>
<line x1="266.60" y1="474.48" x2="274.00" y2="474.48" stroke="#000" stroke-width="1.6"/>
<line x1="266.60" y1="487.38" x2="274.00" y2="487.38" stroke="#000" stroke-width="1.6"/>
<line x1="317.70" y1="436.04" x2="317.70" y2="454.52" stroke="#000" stroke-width="1.6"/>
<line x1="314.00" y1="436.04" x2="321.40" y2="436.04" stroke="#000" stroke-width="1.6"/>
<line x1="314.00" y1="454.52" x2="321.40" y2="454.52" stroke="#000" stroke-width="1.6"/>
<line x1="317.70" y1="456.75" x2="317.70" y2="482.05" stroke="#000" stroke-width="1.6"/>
<line x1="314.00" y1="456.75" x2="321.40" y2="456.75" stroke="#000" stroke-width="1.6"/>
<line x1="314.00" y1="461.96" x2="321.40" y2="461.96" stroke="#000" stroke-width="1.6"/>
<line x1="314.00" y1="482.05" x2="321.40" y2="482.05" stroke="#000" stroke-width="1.6"/>
<line x1="353.25" y1="427.24" x2="353.25" y2="473.49" stroke="#000" stroke-width="1.6"/>
<line x1="349.55" y1="427.24" x2="356.95" y2="427.24" stroke="#000" stroke-width="1.6"/>
<line x1="349.55" y1="433.32" x2="356.95" y2="433.32" stroke="#000" stroke-width="1.6"/>
<line x1="349.55" y1="450.18" x2="356.95" y2="450.18" stroke="#000" stroke-width="1.6"/>
<line x1="349.55" y1="473.49" x2="356.95" y2="473.49" stroke="#000" stroke-width="1.6"/>
<line x1="365.10" y1="428.60" x2="365.10" y2="466.67" stroke="#000" stroke-width="1.6"/>
<line x1="361.40" y1="428.60" x2="368.80" y2="428.60" stroke="#000" stroke-width="1.6"/>
<line x1="361.40" y1="459.73" x2="368.80" y2="459.73" stroke="#000" stroke-width="1.6"/>
<line x1="361.40" y1="466.67" x2="368.80" y2="466.67" stroke="#000" stroke-width="1.6"/>
<line x1="400.65" y1="428.60" x2="400.65" y2="462.95" stroke="#000" stroke-width="1.6"/>
<line x1="396.95" y1="428.60" x2="404.35" y2="428.60" stroke="#000" stroke-width="1.6"/>
<line x1="396.95" y1="462.95" x2="404.35" y2="462.95" stroke="#000" stroke-width="1.6"/>
<line x1="436.20" y1="416.33" x2="436.20" y2="471.26" stroke="#000" stroke-width="1.6"/>
<line x1="432.50" y1="416.33" x2="439.90" y2="416.33" stroke="#000" stroke-width="1.6"/>
<line x1="432.50" y1="426.87" x2="439.90" y2="426.87" stroke="#000" stroke-width="1.6"/>
<line x1="432.50" y1="450.18" x2="439.90" y2="450.18" stroke="#000" stroke-width="1.6"/>
<line x1="432.50" y1="453.40" x2="439.90" y2="453.40" stroke="#000" stroke-width="1.6"/>
<line x1="432.50" y1="456.13" x2="439.90" y2="456.13" stroke="#000" stroke-width="1.6"/>
<line x1="432.50" y1="460.84" x2="439.90" y2="460.84" stroke="#000" stroke-width="1.6"/>
<line x1="432.50" y1="471.26" x2="439.90" y2="471.26" stroke="#000" stroke-width="1.6"/>
<polygon points="92.55,385.77 96.05,389.17 92.55,392.57 89.05,389.17" fill="#482573"/>
<polygon points="139.95,386.14 143.45,389.54 139.95,392.94 136.45,389.54" fill="#482573"/>
<polygon points="163.65,477.90 167.15,481.30 163.65,484.70 160.15,481.30" fill="#482573"/>
<polygon points="187.35,488.57 190.85,491.97 187.35,495.37 183.85,491.97" fill="#482573"/>
<polygon points="199.20,489.56 202.70,492.96 199.20,496.36 195.70,492.96" fill="#482573"/>
<polygon points="222.90,489.56 226.40,492.96 222.90,496.36 219.40,492.96" fill="#482573"/>
<polygon points="270.30,474.68 273.80,478.08 270.30,481.48 266.80,478.08" fill="#482573"/>
<polygon points="317.70,467.86 321.20,471.26 317.70,474.66 314.20,471.26" fill="#482573"/>
<polygon points="353.25,451.00 356.75,454.40 353.25,457.80 349.75,454.40" fill="#482573"/>
<polygon points="365.10,452.36 368.60,455.76 365.10,459.16 361.60,455.76" fill="#482573"/>
<polygon points="400.65,448.89 404.15,452.29 400.65,455.69 397.15,452.29" fill="#482573"/>
<polygon points="436.20,430.91 439.70,434.31 436.20,437.71 432.70,434.31" fill="#482573"/>
<polygon points="88.85,413.06 96.25,413.06 92.55,406.16" fill="#70AC48"/>
<polygon points="136.25,418.88 143.65,418.88 139.95,411.98" fill="#70AC48"/>
<polygon points="159.95,490.80 167.35,490.80 163.65,483.90" fill="#70AC48"/>
<polygon points="183.65,497.25 191.05,497.25 187.35,490.35" fill="#70AC48"/>
<polygon points="195.50,502.09 202.90,502.09 199.20,495.19" fill="#70AC48"/>
<polygon points="219.20,496.26 226.60,496.26 222.90,489.36" fill="#70AC48"/>
<polygon points="266.60,482.00 274.00,482.00 270.30,475.10" fill="#70AC48"/>
<polygon points="314.00,474.93 321.40,474.93 317.70,468.03" fill="#70AC48"/>
<polygon points="349.55,466.25 356.95,466.25 353.25,459.35" fill="#70AC48"/>
<polygon points="361.40,459.43 368.80,459.43 365.10,452.53" fill="#70AC48"/>
<polygon points="396.95,463.65 404.35,463.65 400.65,456.75" fill="#70AC48"/>
<polygon points="432.50,440.83 439.90,440.83 436.20,433.93" fill="#70AC48"/>
<rect x="89.10" y="432.35" width="6.90" height="6.90" fill="#2A4C84"/>
<rect x="136.50" y="433.83" width="6.90" height="6.90" fill="#2A4C84"/>
<rect x="160.20" y="487.77" width="6.90" height="6.90" fill="#2A4C84"/>
<rect x="183.90" y="491.49" width="6.90" height="6.90" fill="#2A4C84"/>
<rect x="195.75" y="491.99" width="6.90" height="6.90" fill="#2A4C84"/>
<rect x="219.45" y="491.99" width="6.90" height="6.90" fill="#2A4C84"/>
<rect x="266.85" y="487.03" width="6.90" height="6.90" fill="#2A4C84"/>
<rect x="314.25" y="486.16" width="6.90" height="6.90" fill="#2A4C84"/>
<rect x="349.80" y="483.19" width="6.90" height="6.90" fill="#2A4C84"/>
<rect x="361.65" y="477.48" width="6.90" height="6.90" fill="#2A4C84"/>
<rect x="397.20" y="475.99" width="6.90" height="6.90" fill="#2A4C84"/>
<rect x="432.75" y="462.60" width="6.90" height="6.90" fill="#2A4C84"/>
<circle cx="92.55" cy="438.15" r="3.00" fill="#fff" stroke="#931236" stroke-width="1.8"/>
<circle cx="139.95" cy="452.66" r="3.00" fill="#fff" stroke="#931236" stroke-width="1.8"/>
<circle cx="163.65" cy="445.72" r="3.00" fill="#fff" stroke="#931236" stroke-width="1.8"/>
<circle cx="187.35" cy="450.06" r="3.00" fill="#fff" stroke="#931236" stroke-width="1.8"/>
<circle cx="199.20" cy="436.79" r="3.00" fill="#fff" stroke="#931236" stroke-width="1.8"/>
<circle cx="222.90" cy="442.49" r="3.00" fill="#fff" stroke="#931236" stroke-width="1.8"/>
<circle cx="270.30" cy="443.98" r="3.00" fill="#fff" stroke="#931236" stroke-width="1.8"/>
<circle cx="317.70" cy="445.34" r="3.00" fill="#fff" stroke="#931236" stroke-width="1.8"/>
<circle cx="353.25" cy="441.75" r="3.00" fill="#fff" stroke="#931236" stroke-width="1.8"/>
<circle cx="365.10" cy="444.35" r="3.00" fill="#fff" stroke="#931236" stroke-width="1.8"/>
<circle cx="400.65" cy="442.74" r="3.00" fill="#fff" stroke="#931236" stroke-width="1.8"/>
<circle cx="436.20" cy="442.74" r="3.00" fill="#fff" stroke="#931236" stroke-width="1.8"/>
<polygon points="365.00,487.30 365.71,489.03 367.57,489.17 366.14,490.37 366.59,492.18 365.00,491.20 363.41,492.18 363.86,490.37 362.43,489.17 364.29,489.03" fill="#111"/>
<polygon points="436.30,477.10 437.01,478.83 438.87,478.97 437.44,480.17 437.89,481.98 436.30,481.00 434.71,481.98 435.16,480.17 433.73,478.97 435.59,478.83" fill="#111"/>
<line x1="377.00" y1="337.50" x2="396.50" y2="337.50" stroke="#931236" stroke-width="2.2"/>
<circle cx="386.80" cy="337.50" r="3.00" fill="#fff" stroke="#931236" stroke-width="1.8"/>
<text x="401.3" y="340.50" font-size="11.0" textLength="34.6" lengthAdjust="spacingAndGlyphs">Vehicle</text>
<line x1="377.00" y1="355.00" x2="396.50" y2="355.00" stroke="#213E6C" stroke-width="2.2"/>
<rect x="383.35" y="351.55" width="6.90" height="6.90" fill="#2A4C84"/>
<text x="401.3" y="358.00" font-size="11.0" textLength="70.8" lengthAdjust="spacingAndGlyphs">CYP 60mg/kg</text>
<line x1="377.00" y1="371.80" x2="396.50" y2="371.80" stroke="#72AE4A" stroke-width="2.2"/>
<polygon points="383.10,375.10 390.50,375.10 386.80,368.20" fill="#70AC48"/>
<text x="401.3" y="374.80" font-size="11.0" textLength="91.1" lengthAdjust="spacingAndGlyphs">CYP&amp;329 3mg/kg</text>
<line x1="377.00" y1="389.50" x2="396.50" y2="389.50" stroke="#3F1F5E" stroke-width="2.2"/>
<polygon points="386.80,386.10 390.30,389.50 386.80,392.90 383.30,389.50" fill="#482573"/>
<text x="401.3" y="392.50" font-size="11.0" textLength="108.4" lengthAdjust="spacingAndGlyphs">CYP&amp;GCSF 10µg/kg</text>
<polygon points="385.60,399.70 386.01,400.73 387.12,400.81 386.27,401.52 386.54,402.59 385.60,402.00 384.66,402.59 384.93,401.52 384.08,400.81 385.19,400.73" fill="#111"/>
<text x="390.3" y="406.3" font-size="11.0" textLength="101.2" lengthAdjust="spacingAndGlyphs">-p &lt;0.05 CYPvs329</text>
<text transform="translate(11.8,564.3) scale(1.14,1)" font-size="17.6" font-weight="bold">C</text>
<line x1="80.90" y1="578.70" x2="80.90" y2="772.70" stroke="#000" stroke-width="2.0"/>
<line x1="76.10" y1="771.70" x2="80.90" y2="771.70" stroke="#000" stroke-width="1.6"/>
<line x1="78.50" y1="762.34" x2="80.90" y2="762.34" stroke="#000" stroke-width="1.2"/>
<line x1="78.50" y1="752.97" x2="80.90" y2="752.97" stroke="#000" stroke-width="1.2"/>
<line x1="78.50" y1="743.61" x2="80.90" y2="743.61" stroke="#000" stroke-width="1.2"/>
<line x1="78.50" y1="734.24" x2="80.90" y2="734.24" stroke="#000" stroke-width="1.2"/>
<line x1="76.10" y1="724.88" x2="80.90" y2="724.88" stroke="#000" stroke-width="1.6"/>
<line x1="78.50" y1="715.51" x2="80.90" y2="715.51" stroke="#000" stroke-width="1.2"/>
<line x1="78.50" y1="706.14" x2="80.90" y2="706.14" stroke="#000" stroke-width="1.2"/>
<line x1="78.50" y1="696.78" x2="80.90" y2="696.78" stroke="#000" stroke-width="1.2"/>
<line x1="78.50" y1="687.42" x2="80.90" y2="687.42" stroke="#000" stroke-width="1.2"/>
<line x1="76.10" y1="678.05" x2="80.90" y2="678.05" stroke="#000" stroke-width="1.6"/>
<line x1="78.50" y1="668.69" x2="80.90" y2="668.69" stroke="#000" stroke-width="1.2"/>
<line x1="78.50" y1="659.32" x2="80.90" y2="659.32" stroke="#000" stroke-width="1.2"/>
<line x1="78.50" y1="649.96" x2="80.90" y2="649.96" stroke="#000" stroke-width="1.2"/>
<line x1="78.50" y1="640.59" x2="80.90" y2="640.59" stroke="#000" stroke-width="1.2"/>
<line x1="76.10" y1="631.23" x2="80.90" y2="631.23" stroke="#000" stroke-width="1.6"/>
<line x1="78.50" y1="621.86" x2="80.90" y2="621.86" stroke="#000" stroke-width="1.2"/>
<line x1="78.50" y1="612.50" x2="80.90" y2="612.50" stroke="#000" stroke-width="1.2"/>
<line x1="78.50" y1="603.13" x2="80.90" y2="603.13" stroke="#000" stroke-width="1.2"/>
<line x1="78.50" y1="593.76" x2="80.90" y2="593.76" stroke="#000" stroke-width="1.2"/>
<line x1="76.10" y1="584.40" x2="80.90" y2="584.40" stroke="#000" stroke-width="1.6"/>
<text transform="translate(71.3,776.20) scale(1.12,1)" font-size="11.0" text-anchor="end">0.0</text>
<text transform="translate(71.3,729.38) scale(1.12,1)" font-size="11.0" text-anchor="end">0.5</text>
<text transform="translate(71.3,682.55) scale(1.12,1)" font-size="11.0" text-anchor="end">1.0</text>
<text transform="translate(71.3,635.73) scale(1.12,1)" font-size="11.0" text-anchor="end">1.5</text>
<text transform="translate(71.3,588.90) scale(1.12,1)" font-size="11.0" text-anchor="end">2.0</text>
<line x1="79.90" y1="771.70" x2="441.00" y2="771.70" stroke="#000" stroke-width="2.0"/>
<line x1="92.42" y1="771.70" x2="92.42" y2="774.10" stroke="#000" stroke-width="1.2"/>
<line x1="103.88" y1="771.70" x2="103.88" y2="774.10" stroke="#000" stroke-width="1.2"/>
<line x1="115.34" y1="771.70" x2="115.34" y2="774.10" stroke="#000" stroke-width="1.2"/>
<line x1="126.80" y1="771.70" x2="126.80" y2="775.90" stroke="#000" stroke-width="1.5"/>
<line x1="138.26" y1="771.70" x2="138.26" y2="774.10" stroke="#000" stroke-width="1.2"/>
<line x1="149.72" y1="771.70" x2="149.72" y2="774.10" stroke="#000" stroke-width="1.2"/>
<line x1="161.18" y1="771.70" x2="161.18" y2="774.10" stroke="#000" stroke-width="1.2"/>
<line x1="172.64" y1="771.70" x2="172.64" y2="774.10" stroke="#000" stroke-width="1.2"/>
<line x1="184.10" y1="771.70" x2="184.10" y2="774.10" stroke="#000" stroke-width="1.2"/>
<line x1="195.56" y1="771.70" x2="195.56" y2="774.10" stroke="#000" stroke-width="1.2"/>
<line x1="207.02" y1="771.70" x2="207.02" y2="775.90" stroke="#000" stroke-width="1.5"/>
<line x1="218.48" y1="771.70" x2="218.48" y2="774.10" stroke="#000" stroke-width="1.2"/>
<line x1="229.94" y1="771.70" x2="229.94" y2="774.10" stroke="#000" stroke-width="1.2"/>
<line x1="241.40" y1="771.70" x2="241.40" y2="774.10" stroke="#000" stroke-width="1.2"/>
<line x1="252.86" y1="771.70" x2="252.86" y2="774.10" stroke="#000" stroke-width="1.2"/>
<line x1="264.32" y1="771.70" x2="264.32" y2="774.10" stroke="#000" stroke-width="1.2"/>
<line x1="275.78" y1="771.70" x2="275.78" y2="774.10" stroke="#000" stroke-width="1.2"/>
<line x1="287.24" y1="771.70" x2="287.24" y2="775.90" stroke="#000" stroke-width="1.5"/>
<line x1="298.70" y1="771.70" x2="298.70" y2="774.10" stroke="#000" stroke-width="1.2"/>
<line x1="310.16" y1="771.70" x2="310.16" y2="774.10" stroke="#000" stroke-width="1.2"/>
<line x1="321.62" y1="771.70" x2="321.62" y2="774.10" stroke="#000" stroke-width="1.2"/>
<line x1="333.08" y1="771.70" x2="333.08" y2="774.10" stroke="#000" stroke-width="1.2"/>
<line x1="344.54" y1="771.70" x2="344.54" y2="774.10" stroke="#000" stroke-width="1.2"/>
<line x1="356.00" y1="771.70" x2="356.00" y2="774.10" stroke="#000" stroke-width="1.2"/>
<line x1="367.46" y1="771.70" x2="367.46" y2="775.90" stroke="#000" stroke-width="1.5"/>
<line x1="378.92" y1="771.70" x2="378.92" y2="774.10" stroke="#000" stroke-width="1.2"/>
<line x1="390.38" y1="771.70" x2="390.38" y2="774.10" stroke="#000" stroke-width="1.2"/>
<line x1="401.84" y1="771.70" x2="401.84" y2="774.10" stroke="#000" stroke-width="1.2"/>
<line x1="413.30" y1="771.70" x2="413.30" y2="774.10" stroke="#000" stroke-width="1.2"/>
<line x1="424.76" y1="771.70" x2="424.76" y2="774.10" stroke="#000" stroke-width="1.2"/>
<line x1="436.22" y1="771.70" x2="436.22" y2="774.10" stroke="#000" stroke-width="1.2"/>
<text transform="translate(126.80,791.9) scale(1.12,1)" font-size="11.0" text-anchor="middle">0</text>
<text transform="translate(207.02,791.9) scale(1.12,1)" font-size="11.0" text-anchor="middle">7</text>
<text transform="translate(287.24,791.9) scale(1.12,1)" font-size="11.0" text-anchor="middle">14</text>
<text transform="translate(367.46,791.9) scale(1.12,1)" font-size="11.0" text-anchor="middle">21</text>
<text x="252.90" y="812.7" font-size="14.6" font-weight="bold" textLength="16.6" lengthAdjust="spacingAndGlyphs">Day</text>
<g transform="translate(45.1,0) rotate(-90)" font-weight="bold">
<text x="-733.05" y="0" font-size="14.8" textLength="49.70" lengthAdjust="spacingAndGlyphs">Monocytes</text>
<text x="-680.85" y="0" font-size="14.8" textLength="14.00" lengthAdjust="spacingAndGlyphs">(10</text>
<text x="-667.05" y="-5.4" font-size="10" textLength="5.00" lengthAdjust="spacingAndGlyphs">3</text>
<text x="-659.45" y="0" font-size="14.8" textLength="39.70" lengthAdjust="spacingAndGlyphs">cells/µl)</text>
</g>
<line x1="184.05" y1="591.50" x2="346.25" y2="591.50" stroke="#000" stroke-width="1.5"/>
<line x1="184.80" y1="591.50" x2="184.80" y2="604.90" stroke="#000" stroke-width="1.5"/>
<polygon points="181.00,602.90 184.80,604.90 188.60,602.90 184.80,611.90" fill="#000"/>
<line x1="345.50" y1="591.50" x2="345.50" y2="604.90" stroke="#000" stroke-width="1.5"/>
<polygon points="341.70,602.90 345.50,604.90 349.30,602.90 345.50,611.90" fill="#000"/>
<text x="213.80" y="583.6" font-size="10.2" textLength="103.1" lengthAdjust="spacingAndGlyphs">14 days daily dosing</text>
<line x1="147.70" y1="612.30" x2="147.70" y2="621.20" stroke="#000" stroke-width="1.5"/>
<polygon points="143.90,619.20 147.70,621.20 151.50,619.20 147.70,628.20" fill="#000"/>
<line x1="160.00" y1="612.30" x2="160.00" y2="621.20" stroke="#000" stroke-width="1.5"/>
<polygon points="156.20,619.20 160.00,621.20 163.80,619.20 160.00,628.20" fill="#000"/>
<text x="142.50" y="606.5" font-size="10.3" textLength="23.5" lengthAdjust="spacingAndGlyphs">CYP</text>
<polyline points="92.42,741.19 138.26,740.63 161.18,722.29 184.10,738.94 195.56,738.94 218.48,738.94 264.32,730.34 310.16,727.53 344.54,690.02 356.00,715.18 390.38,726.32 424.76,729.40" fill="none" stroke="#3F1F5E" stroke-width="2.3" stroke-linejoin="round"/>
<polyline points="92.42,721.26 138.26,720.42 161.18,710.79 184.10,738.76 195.56,763.36 218.48,754.66 264.32,726.88 310.16,685.43 344.54,637.07 356.00,645.39 390.38,685.43 424.76,667.85" fill="none" stroke="#72AE4A" stroke-width="2.3" stroke-linejoin="round"/>
<polyline points="92.42,735.76 138.26,739.60 161.18,719.39 184.10,742.59 195.56,752.32 218.48,758.12 264.32,739.60 310.16,742.87 344.54,743.81 356.00,735.48 390.38,737.73 424.76,688.52" fill="none" stroke="#213E6C" stroke-width="2.3" stroke-linejoin="round"/>
<polyline points="92.42,713.69 138.26,726.50 161.18,727.72 184.10,731.46 195.56,724.63 218.48,726.88 264.32,720.52 310.16,720.80 344.54,717.71 356.00,726.88 390.38,728.47 424.76,729.40" fill="none" stroke="#971138" stroke-width="2.3" stroke-linejoin="round"/>
<line x1="92.42" y1="695.72" x2="92.42" y2="748.30" stroke="#000" stroke-width="1.6"/>
<line x1="88.72" y1="695.72" x2="96.12" y2="695.72" stroke="#000" stroke-width="1.6"/>
<line x1="88.72" y1="730.99" x2="96.12" y2="730.99" stroke="#000" stroke-width="1.6"/>
<line x1="88.72" y1="748.30" x2="96.12" y2="748.30" stroke="#000" stroke-width="1.6"/>
<line x1="138.26" y1="716.87" x2="138.26" y2="749.61" stroke="#000" stroke-width="1.6"/>
<line x1="134.56" y1="716.87" x2="141.96" y2="716.87" stroke="#000" stroke-width="1.6"/>
<line x1="134.56" y1="733.80" x2="141.96" y2="733.80" stroke="#000" stroke-width="1.6"/>
<line x1="134.56" y1="745.40" x2="141.96" y2="745.40" stroke="#000" stroke-width="1.6"/>
<line x1="134.56" y1="749.61" x2="141.96" y2="749.61" stroke="#000" stroke-width="1.6"/>
<line x1="161.18" y1="703.49" x2="161.18" y2="741.19" stroke="#000" stroke-width="1.6"/>
<line x1="157.48" y1="703.49" x2="164.88" y2="703.49" stroke="#000" stroke-width="1.6"/>
<line x1="157.48" y1="706.01" x2="164.88" y2="706.01" stroke="#000" stroke-width="1.6"/>
<line x1="157.48" y1="708.82" x2="164.88" y2="708.82" stroke="#000" stroke-width="1.6"/>
<line x1="157.48" y1="734.08" x2="164.88" y2="734.08" stroke="#000" stroke-width="1.6"/>
<line x1="157.48" y1="737.82" x2="164.88" y2="737.82" stroke="#000" stroke-width="1.6"/>
<line x1="157.48" y1="741.19" x2="164.88" y2="741.19" stroke="#000" stroke-width="1.6"/>
<line x1="184.10" y1="722.85" x2="184.10" y2="755.78" stroke="#000" stroke-width="1.6"/>
<line x1="180.40" y1="722.85" x2="187.80" y2="722.85" stroke="#000" stroke-width="1.6"/>
<line x1="180.40" y1="755.78" x2="187.80" y2="755.78" stroke="#000" stroke-width="1.6"/>
<line x1="195.56" y1="715.37" x2="195.56" y2="757.37" stroke="#000" stroke-width="1.6"/>
<line x1="191.86" y1="715.37" x2="199.26" y2="715.37" stroke="#000" stroke-width="1.6"/>
<line x1="191.86" y1="734.08" x2="199.26" y2="734.08" stroke="#000" stroke-width="1.6"/>
<line x1="191.86" y1="745.40" x2="199.26" y2="745.40" stroke="#000" stroke-width="1.6"/>
<line x1="191.86" y1="757.37" x2="199.26" y2="757.37" stroke="#000" stroke-width="1.6"/>
<line x1="218.48" y1="718.18" x2="218.48" y2="750.54" stroke="#000" stroke-width="1.6"/>
<line x1="214.78" y1="718.18" x2="222.18" y2="718.18" stroke="#000" stroke-width="1.6"/>
<line x1="214.78" y1="750.54" x2="222.18" y2="750.54" stroke="#000" stroke-width="1.6"/>
<line x1="264.32" y1="703.40" x2="264.32" y2="752.79" stroke="#000" stroke-width="1.6"/>
<line x1="260.62" y1="703.40" x2="268.02" y2="703.40" stroke="#000" stroke-width="1.6"/>
<line x1="260.62" y1="709.57" x2="268.02" y2="709.57" stroke="#000" stroke-width="1.6"/>
<line x1="260.62" y1="714.15" x2="268.02" y2="714.15" stroke="#000" stroke-width="1.6"/>
<line x1="260.62" y1="752.79" x2="268.02" y2="752.79" stroke="#000" stroke-width="1.6"/>
<line x1="310.16" y1="666.91" x2="310.16" y2="756.16" stroke="#000" stroke-width="1.6"/>
<line x1="306.46" y1="666.91" x2="313.86" y2="666.91" stroke="#000" stroke-width="1.6"/>
<line x1="306.46" y1="698.53" x2="313.86" y2="698.53" stroke="#000" stroke-width="1.6"/>
<line x1="306.46" y1="704.14" x2="313.86" y2="704.14" stroke="#000" stroke-width="1.6"/>
<line x1="306.46" y1="708.82" x2="313.86" y2="708.82" stroke="#000" stroke-width="1.6"/>
<line x1="306.46" y1="714.43" x2="313.86" y2="714.43" stroke="#000" stroke-width="1.6"/>
<line x1="306.46" y1="729.96" x2="313.86" y2="729.96" stroke="#000" stroke-width="1.6"/>
<line x1="306.46" y1="736.14" x2="313.86" y2="736.14" stroke="#000" stroke-width="1.6"/>
<line x1="306.46" y1="756.16" x2="313.86" y2="756.16" stroke="#000" stroke-width="1.6"/>
<line x1="344.54" y1="619.20" x2="344.54" y2="754.66" stroke="#000" stroke-width="1.6"/>
<line x1="340.84" y1="619.20" x2="348.24" y2="619.20" stroke="#000" stroke-width="1.6"/>
<line x1="340.84" y1="654.56" x2="348.24" y2="654.56" stroke="#000" stroke-width="1.6"/>
<line x1="340.84" y1="708.82" x2="348.24" y2="708.82" stroke="#000" stroke-width="1.6"/>
<line x1="340.84" y1="729.96" x2="348.24" y2="729.96" stroke="#000" stroke-width="1.6"/>
<line x1="340.84" y1="736.14" x2="348.24" y2="736.14" stroke="#000" stroke-width="1.6"/>
<line x1="340.84" y1="754.66" x2="348.24" y2="754.66" stroke="#000" stroke-width="1.6"/>
<line x1="356.00" y1="623.78" x2="356.00" y2="666.91" stroke="#000" stroke-width="1.6"/>
<line x1="352.30" y1="623.78" x2="359.70" y2="623.78" stroke="#000" stroke-width="1.6"/>
<line x1="352.30" y1="666.91" x2="359.70" y2="666.91" stroke="#000" stroke-width="1.6"/>
<line x1="356.00" y1="689.36" x2="356.00" y2="752.23" stroke="#000" stroke-width="1.6"/>
<line x1="352.30" y1="689.36" x2="359.70" y2="689.36" stroke="#000" stroke-width="1.6"/>
<line x1="352.30" y1="752.23" x2="359.70" y2="752.23" stroke="#000" stroke-width="1.6"/>
<line x1="390.38" y1="649.42" x2="390.38" y2="747.83" stroke="#000" stroke-width="1.6"/>
<line x1="386.68" y1="649.42" x2="394.08" y2="649.42" stroke="#000" stroke-width="1.6"/>
<line x1="386.68" y1="747.83" x2="394.08" y2="747.83" stroke="#000" stroke-width="1.6"/>
<line x1="424.76" y1="628.46" x2="424.76" y2="753.07" stroke="#000" stroke-width="1.6"/>
<line x1="421.06" y1="628.46" x2="428.46" y2="628.46" stroke="#000" stroke-width="1.6"/>
<line x1="421.06" y1="673.55" x2="428.46" y2="673.55" stroke="#000" stroke-width="1.6"/>
<line x1="421.06" y1="706.95" x2="428.46" y2="706.95" stroke="#000" stroke-width="1.6"/>
<line x1="421.06" y1="710.69" x2="428.46" y2="710.69" stroke="#000" stroke-width="1.6"/>
<line x1="421.06" y1="716.31" x2="428.46" y2="716.31" stroke="#000" stroke-width="1.6"/>
<line x1="421.06" y1="753.07" x2="428.46" y2="753.07" stroke="#000" stroke-width="1.6"/>
<polygon points="92.42,737.79 95.92,741.19 92.42,744.59 88.92,741.19" fill="#482573"/>
<polygon points="138.26,737.23 141.76,740.63 138.26,744.03 134.76,740.63" fill="#482573"/>
<polygon points="161.18,718.89 164.68,722.29 161.18,725.69 157.68,722.29" fill="#482573"/>
<polygon points="184.10,735.54 187.60,738.94 184.10,742.34 180.60,738.94" fill="#482573"/>
<polygon points="195.56,735.54 199.06,738.94 195.56,742.34 192.06,738.94" fill="#482573"/>
<polygon points="218.48,735.54 221.98,738.94 218.48,742.34 214.98,738.94" fill="#482573"/>
<polygon points="264.32,726.94 267.82,730.34 264.32,733.74 260.82,730.34" fill="#482573"/>
<polygon points="310.16,724.13 313.66,727.53 310.16,730.93 306.66,727.53" fill="#482573"/>
<polygon points="344.54,686.62 348.04,690.02 344.54,693.42 341.04,690.02" fill="#482573"/>
<polygon points="356.00,711.78 359.50,715.18 356.00,718.58 352.50,715.18" fill="#482573"/>
<polygon points="390.38,722.92 393.88,726.32 390.38,729.72 386.88,726.32" fill="#482573"/>
<polygon points="424.76,726.00 428.26,729.40 424.76,732.80 421.26,729.40" fill="#482573"/>
<polygon points="88.72,724.56 96.12,724.56 92.42,717.66" fill="#70AC48"/>
<polygon points="134.56,723.72 141.96,723.72 138.26,716.82" fill="#70AC48"/>
<polygon points="157.48,714.09 164.88,714.09 161.18,707.19" fill="#70AC48"/>
<polygon points="180.40,742.06 187.80,742.06 184.10,735.16" fill="#70AC48"/>
<polygon points="191.86,766.66 199.26,766.66 195.56,759.76" fill="#70AC48"/>
<polygon points="214.78,757.96 222.18,757.96 218.48,751.06" fill="#70AC48"/>
<polygon points="260.62,730.18 268.02,730.18 264.32,723.28" fill="#70AC48"/>
<polygon points="306.46,688.73 313.86,688.73 310.16,681.83" fill="#70AC48"/>
<polygon points="340.84,640.37 348.24,640.37 344.54,633.47" fill="#70AC48"/>
<polygon points="352.30,648.69 359.70,648.69 356.00,641.79" fill="#70AC48"/>
<polygon points="386.68,688.73 394.08,688.73 390.38,681.83" fill="#70AC48"/>
<polygon points="421.06,671.15 428.46,671.15 424.76,664.25" fill="#70AC48"/>
<rect x="88.97" y="732.31" width="6.90" height="6.90" fill="#2A4C84"/>
<rect x="134.81" y="736.15" width="6.90" height="6.90" fill="#2A4C84"/>
<rect x="157.73" y="715.94" width="6.90" height="6.90" fill="#2A4C84"/>
<rect x="180.65" y="739.14" width="6.90" height="6.90" fill="#2A4C84"/>
<rect x="192.11" y="748.87" width="6.90" height="6.90" fill="#2A4C84"/>
<rect x="215.03" y="754.67" width="6.90" height="6.90" fill="#2A4C84"/>
<rect x="260.87" y="736.15" width="6.90" height="6.90" fill="#2A4C84"/>
<rect x="306.71" y="739.42" width="6.90" height="6.90" fill="#2A4C84"/>
<rect x="341.09" y="740.36" width="6.90" height="6.90" fill="#2A4C84"/>
<rect x="352.55" y="732.03" width="6.90" height="6.90" fill="#2A4C84"/>
<rect x="386.93" y="734.28" width="6.90" height="6.90" fill="#2A4C84"/>
<rect x="421.31" y="685.07" width="6.90" height="6.90" fill="#2A4C84"/>
<circle cx="92.42" cy="713.69" r="3.00" fill="#fff" stroke="#931236" stroke-width="1.8"/>
<circle cx="138.26" cy="726.50" r="3.00" fill="#fff" stroke="#931236" stroke-width="1.8"/>
<circle cx="161.18" cy="727.72" r="3.00" fill="#fff" stroke="#931236" stroke-width="1.8"/>
<circle cx="184.10" cy="731.46" r="3.00" fill="#fff" stroke="#931236" stroke-width="1.8"/>
<circle cx="195.56" cy="724.63" r="3.00" fill="#fff" stroke="#931236" stroke-width="1.8"/>
<circle cx="218.48" cy="726.88" r="3.00" fill="#fff" stroke="#931236" stroke-width="1.8"/>
<circle cx="264.32" cy="720.52" r="3.00" fill="#fff" stroke="#931236" stroke-width="1.8"/>
<circle cx="310.16" cy="720.80" r="3.00" fill="#fff" stroke="#931236" stroke-width="1.8"/>
<circle cx="344.54" cy="717.71" r="3.00" fill="#fff" stroke="#931236" stroke-width="1.8"/>
<circle cx="356.00" cy="726.88" r="3.00" fill="#fff" stroke="#931236" stroke-width="1.8"/>
<circle cx="390.38" cy="728.47" r="3.00" fill="#fff" stroke="#931236" stroke-width="1.8"/>
<circle cx="424.76" cy="729.40" r="3.00" fill="#fff" stroke="#931236" stroke-width="1.8"/>
<polygon points="304.00,677.50 304.71,679.23 306.57,679.37 305.14,680.57 305.59,682.38 304.00,681.40 302.41,682.38 302.86,680.57 301.43,679.37 303.29,679.23" fill="#111"/>
<polygon points="320.00,631.30 320.71,633.03 322.57,633.17 321.14,634.37 321.59,636.18 320.00,635.20 318.41,636.18 318.86,634.37 317.43,633.17 319.29,633.03" fill="#111"/>
<polygon points="325.50,631.30 326.21,633.03 328.07,633.17 326.64,634.37 327.09,636.18 325.50,635.20 323.91,636.18 324.36,634.37 322.93,633.17 324.79,633.03" fill="#111"/>
<polygon points="331.00,631.30 331.71,633.03 333.57,633.17 332.14,634.37 332.59,636.18 331.00,635.20 329.41,636.18 329.86,634.37 328.43,633.17 330.29,633.03" fill="#111"/>
<polygon points="359.10,637.50 359.81,639.23 361.67,639.37 360.24,640.57 360.69,642.38 359.10,641.40 357.51,642.38 357.96,640.57 356.53,639.37 358.39,639.23" fill="#111"/>
<polygon points="364.60,637.50 365.31,639.23 367.17,639.37 365.74,640.57 366.19,642.38 364.60,641.40 363.01,642.38 363.46,640.57 362.03,639.37 363.89,639.23" fill="#111"/>
<polygon points="370.10,637.50 370.81,639.23 372.67,639.37 371.24,640.57 371.69,642.38 370.10,641.40 368.51,642.38 368.96,640.57 367.53,639.37 369.39,639.23" fill="#111"/>
<line x1="375.10" y1="563.00" x2="394.60" y2="563.00" stroke="#931236" stroke-width="2.2"/>
<circle cx="384.90" cy="563.00" r="3.00" fill="#fff" stroke="#931236" stroke-width="1.8"/>
<text x="398.7" y="566.00" font-size="11.0" textLength="34.6" lengthAdjust="spacingAndGlyphs">Vehicle</text>
<line x1="375.10" y1="579.70" x2="394.60" y2="579.70" stroke="#213E6C" stroke-width="2.2"/>
<rect x="381.45" y="576.25" width="6.90" height="6.90" fill="#2A4C84"/>
<text x="398.7" y="582.70" font-size="11.0" textLength="70.8" lengthAdjust="spacingAndGlyphs">CYP 60mg/kg</text>
<line x1="375.10" y1="596.70" x2="394.60" y2="596.70" stroke="#72AE4A" stroke-width="2.2"/>
<polygon points="381.20,600.00 388.60,600.00 384.90,593.10" fill="#70AC48"/>
<text x="398.7" y="599.70" font-size="11.0" textLength="91.1" lengthAdjust="spacingAndGlyphs">CYP&amp;329 3mg/kg</text>
<line x1="375.10" y1="614.00" x2="394.60" y2="614.00" stroke="#3F1F5E" stroke-width="2.2"/>
<polygon points="384.90,610.60 388.40,614.00 384.90,617.40 381.40,614.00" fill="#482573"/>
<text x="398.7" y="617.00" font-size="11.0" textLength="108.4" lengthAdjust="spacingAndGlyphs">CYP&amp;GCSF 10µg/kg</text>
<text transform="translate(11.9,831.5) scale(1.14,1)" font-size="17.6" font-weight="bold">D</text>
<line x1="81.00" y1="843.10" x2="81.00" y2="1035.70" stroke="#000" stroke-width="2.0"/>
<line x1="76.20" y1="1034.70" x2="81.00" y2="1034.70" stroke="#000" stroke-width="1.6"/>
<line x1="78.60" y1="1015.98" x2="81.00" y2="1015.98" stroke="#000" stroke-width="1.2"/>
<line x1="78.60" y1="997.26" x2="81.00" y2="997.26" stroke="#000" stroke-width="1.2"/>
<line x1="78.60" y1="978.54" x2="81.00" y2="978.54" stroke="#000" stroke-width="1.2"/>
<line x1="78.60" y1="959.82" x2="81.00" y2="959.82" stroke="#000" stroke-width="1.2"/>
<line x1="76.20" y1="941.10" x2="81.00" y2="941.10" stroke="#000" stroke-width="1.6"/>
<line x1="78.60" y1="922.38" x2="81.00" y2="922.38" stroke="#000" stroke-width="1.2"/>
<line x1="78.60" y1="903.66" x2="81.00" y2="903.66" stroke="#000" stroke-width="1.2"/>
<line x1="78.60" y1="884.94" x2="81.00" y2="884.94" stroke="#000" stroke-width="1.2"/>
<line x1="78.60" y1="866.22" x2="81.00" y2="866.22" stroke="#000" stroke-width="1.2"/>
<line x1="76.20" y1="847.50" x2="81.00" y2="847.50" stroke="#000" stroke-width="1.6"/>
<text transform="translate(71.3,1039.20) scale(1.12,1)" font-size="11.0" text-anchor="end">0</text>
<text transform="translate(71.3,945.60) scale(1.12,1)" font-size="11.0" text-anchor="end">5</text>
<text transform="translate(71.3,852.00) scale(1.12,1)" font-size="11.0" text-anchor="end">10</text>
<line x1="80.00" y1="1034.70" x2="441.00" y2="1034.70" stroke="#000" stroke-width="2.0"/>
<line x1="92.42" y1="1034.70" x2="92.42" y2="1037.10" stroke="#000" stroke-width="1.2"/>
<line x1="103.88" y1="1034.70" x2="103.88" y2="1037.10" stroke="#000" stroke-width="1.2"/>
<line x1="115.34" y1="1034.70" x2="115.34" y2="1037.10" stroke="#000" stroke-width="1.2"/>
<line x1="126.80" y1="1034.70" x2="126.80" y2="1038.90" stroke="#000" stroke-width="1.5"/>
<line x1="138.26" y1="1034.70" x2="138.26" y2="1037.10" stroke="#000" stroke-width="1.2"/>
<line x1="149.72" y1="1034.70" x2="149.72" y2="1037.10" stroke="#000" stroke-width="1.2"/>
<line x1="161.18" y1="1034.70" x2="161.18" y2="1037.10" stroke="#000" stroke-width="1.2"/>
<line x1="172.64" y1="1034.70" x2="172.64" y2="1037.10" stroke="#000" stroke-width="1.2"/>
<line x1="184.10" y1="1034.70" x2="184.10" y2="1037.10" stroke="#000" stroke-width="1.2"/>
<line x1="195.56" y1="1034.70" x2="195.56" y2="1037.10" stroke="#000" stroke-width="1.2"/>
<line x1="207.02" y1="1034.70" x2="207.02" y2="1038.90" stroke="#000" stroke-width="1.5"/>
<line x1="218.48" y1="1034.70" x2="218.48" y2="1037.10" stroke="#000" stroke-width="1.2"/>
<line x1="229.94" y1="1034.70" x2="229.94" y2="1037.10" stroke="#000" stroke-width="1.2"/>
<line x1="241.40" y1="1034.70" x2="241.40" y2="1037.10" stroke="#000" stroke-width="1.2"/>
<line x1="252.86" y1="1034.70" x2="252.86" y2="1037.10" stroke="#000" stroke-width="1.2"/>
<line x1="264.32" y1="1034.70" x2="264.32" y2="1037.10" stroke="#000" stroke-width="1.2"/>
<line x1="275.78" y1="1034.70" x2="275.78" y2="1037.10" stroke="#000" stroke-width="1.2"/>
<line x1="287.24" y1="1034.70" x2="287.24" y2="1038.90" stroke="#000" stroke-width="1.5"/>
<line x1="298.70" y1="1034.70" x2="298.70" y2="1037.10" stroke="#000" stroke-width="1.2"/>
<line x1="310.16" y1="1034.70" x2="310.16" y2="1037.10" stroke="#000" stroke-width="1.2"/>
<line x1="321.62" y1="1034.70" x2="321.62" y2="1037.10" stroke="#000" stroke-width="1.2"/>
<line x1="333.08" y1="1034.70" x2="333.08" y2="1037.10" stroke="#000" stroke-width="1.2"/>
<line x1="344.54" y1="1034.70" x2="344.54" y2="1037.10" stroke="#000" stroke-width="1.2"/>
<line x1="356.00" y1="1034.70" x2="356.00" y2="1037.10" stroke="#000" stroke-width="1.2"/>
<line x1="367.46" y1="1034.70" x2="367.46" y2="1038.90" stroke="#000" stroke-width="1.5"/>
<line x1="378.92" y1="1034.70" x2="378.92" y2="1037.10" stroke="#000" stroke-width="1.2"/>
<line x1="390.38" y1="1034.70" x2="390.38" y2="1037.10" stroke="#000" stroke-width="1.2"/>
<line x1="401.84" y1="1034.70" x2="401.84" y2="1037.10" stroke="#000" stroke-width="1.2"/>
<line x1="413.30" y1="1034.70" x2="413.30" y2="1037.10" stroke="#000" stroke-width="1.2"/>
<line x1="424.76" y1="1034.70" x2="424.76" y2="1037.10" stroke="#000" stroke-width="1.2"/>
<line x1="436.22" y1="1034.70" x2="436.22" y2="1037.10" stroke="#000" stroke-width="1.2"/>
<text transform="translate(126.80,1054.6) scale(1.12,1)" font-size="11.0" text-anchor="middle">0</text>
<text transform="translate(207.02,1054.6) scale(1.12,1)" font-size="11.0" text-anchor="middle">7</text>
<text transform="translate(287.24,1054.6) scale(1.12,1)" font-size="11.0" text-anchor="middle">14</text>
<text transform="translate(367.46,1054.6) scale(1.12,1)" font-size="11.0" text-anchor="middle">21</text>
<text x="252.90" y="1075.4" font-size="14.6" font-weight="bold" textLength="16.6" lengthAdjust="spacingAndGlyphs">Day</text>
<g transform="translate(49.6,0) rotate(-90)" font-weight="bold">
<text x="-981.45" y="0" font-size="14.8" textLength="19.70" lengthAdjust="spacingAndGlyphs">RBC</text>
<text x="-957.15" y="0" font-size="14.8" textLength="13.70" lengthAdjust="spacingAndGlyphs">(10</text>
<text x="-944.05" y="-5.4" font-size="10" textLength="5.10" lengthAdjust="spacingAndGlyphs">6</text>
<text x="-936.25" y="0" font-size="14.8" textLength="39.30" lengthAdjust="spacingAndGlyphs">cells/µl)</text>
</g>
<line x1="183.65" y1="872.40" x2="345.95" y2="872.40" stroke="#000" stroke-width="1.5"/>
<line x1="184.40" y1="872.40" x2="184.40" y2="886.00" stroke="#000" stroke-width="1.5"/>
<polygon points="180.60,884.00 184.40,886.00 188.20,884.00 184.40,893.00" fill="#000"/>
<line x1="345.20" y1="872.40" x2="345.20" y2="886.00" stroke="#000" stroke-width="1.5"/>
<polygon points="341.40,884.00 345.20,886.00 349.00,884.00 345.20,893.00" fill="#000"/>
<text x="212.90" y="864.9" font-size="10.2" textLength="101.7" lengthAdjust="spacingAndGlyphs">14 days daily dosing</text>
<line x1="144.60" y1="875.40" x2="144.60" y2="884.70" stroke="#000" stroke-width="1.5"/>
<polygon points="140.80,882.70 144.60,884.70 148.40,882.70 144.60,891.70" fill="#000"/>
<line x1="157.20" y1="875.40" x2="157.20" y2="884.70" stroke="#000" stroke-width="1.5"/>
<polygon points="153.40,882.70 157.20,884.70 161.00,882.70 157.20,891.70" fill="#000"/>
<text x="140.20" y="871.5" font-size="10.3" textLength="23.5" lengthAdjust="spacingAndGlyphs">CYP</text>
<polyline points="92.42,916.81 138.26,919.43 161.18,919.43 184.10,925.05 195.56,939.08 218.48,948.62 264.32,932.53 310.16,939.08 344.54,938.33 356.00,940.95 390.38,941.32 424.76,938.70" fill="none" stroke="#3F1F5E" stroke-width="2.3" stroke-linejoin="round"/>
<polyline points="92.42,923.74 138.26,924.67 161.18,923.18 184.10,926.92 195.56,940.95 218.48,959.29 264.32,967.33 310.16,971.63 344.54,967.33 356.00,967.89 390.38,960.97 424.76,954.05" fill="none" stroke="#72AE4A" stroke-width="2.3" stroke-linejoin="round"/>
<polyline points="92.42,918.50 138.26,921.30 161.18,921.30 184.10,925.61 195.56,940.01 218.48,948.62 264.32,951.43 310.16,939.27 344.54,945.63 356.00,945.07 390.38,945.63 424.76,941.89" fill="none" stroke="#213E6C" stroke-width="2.3" stroke-linejoin="round"/>
<polyline points="92.42,911.20 138.26,915.13 161.18,916.07 184.10,916.63 195.56,916.81 218.48,918.12 264.32,917.75 310.16,913.45 344.54,919.43 356.00,922.24 390.38,920.93 424.76,918.69" fill="none" stroke="#971138" stroke-width="2.3" stroke-linejoin="round"/>
<line x1="161.18" y1="920.37" x2="161.18" y2="929.54" stroke="#000" stroke-width="1.6"/>
<line x1="157.48" y1="920.37" x2="164.88" y2="920.37" stroke="#000" stroke-width="1.6"/>
<line x1="157.48" y1="929.54" x2="164.88" y2="929.54" stroke="#000" stroke-width="1.6"/>
<line x1="195.56" y1="913.82" x2="195.56" y2="919.43" stroke="#000" stroke-width="1.6"/>
<line x1="191.86" y1="913.82" x2="199.26" y2="913.82" stroke="#000" stroke-width="1.6"/>
<line x1="191.86" y1="919.43" x2="199.26" y2="919.43" stroke="#000" stroke-width="1.6"/>
<line x1="195.56" y1="932.53" x2="195.56" y2="948.62" stroke="#000" stroke-width="1.6"/>
<line x1="191.86" y1="932.53" x2="199.26" y2="932.53" stroke="#000" stroke-width="1.6"/>
<line x1="191.86" y1="948.62" x2="199.26" y2="948.62" stroke="#000" stroke-width="1.6"/>
<line x1="218.48" y1="931.78" x2="218.48" y2="969.39" stroke="#000" stroke-width="1.6"/>
<line x1="214.78" y1="931.78" x2="222.18" y2="931.78" stroke="#000" stroke-width="1.6"/>
<line x1="214.78" y1="963.59" x2="222.18" y2="963.59" stroke="#000" stroke-width="1.6"/>
<line x1="214.78" y1="969.39" x2="222.18" y2="969.39" stroke="#000" stroke-width="1.6"/>
<line x1="264.32" y1="928.79" x2="264.32" y2="978.56" stroke="#000" stroke-width="1.6"/>
<line x1="260.62" y1="928.79" x2="268.02" y2="928.79" stroke="#000" stroke-width="1.6"/>
<line x1="260.62" y1="978.56" x2="268.02" y2="978.56" stroke="#000" stroke-width="1.6"/>
<line x1="310.16" y1="925.79" x2="310.16" y2="953.67" stroke="#000" stroke-width="1.6"/>
<line x1="306.46" y1="925.79" x2="313.86" y2="925.79" stroke="#000" stroke-width="1.6"/>
<line x1="306.46" y1="953.67" x2="313.86" y2="953.67" stroke="#000" stroke-width="1.6"/>
<line x1="310.16" y1="962.09" x2="310.16" y2="979.49" stroke="#000" stroke-width="1.6"/>
<line x1="306.46" y1="962.09" x2="313.86" y2="962.09" stroke="#000" stroke-width="1.6"/>
<line x1="306.46" y1="979.49" x2="313.86" y2="979.49" stroke="#000" stroke-width="1.6"/>
<line x1="344.54" y1="916.63" x2="344.54" y2="922.80" stroke="#000" stroke-width="1.6"/>
<line x1="340.84" y1="916.63" x2="348.24" y2="916.63" stroke="#000" stroke-width="1.6"/>
<line x1="340.84" y1="922.80" x2="348.24" y2="922.80" stroke="#000" stroke-width="1.6"/>
<line x1="344.54" y1="938.33" x2="344.54" y2="949.56" stroke="#000" stroke-width="1.6"/>
<line x1="340.84" y1="938.33" x2="348.24" y2="938.33" stroke="#000" stroke-width="1.6"/>
<line x1="340.84" y1="949.56" x2="348.24" y2="949.56" stroke="#000" stroke-width="1.6"/>
<line x1="344.54" y1="963.59" x2="344.54" y2="974.63" stroke="#000" stroke-width="1.6"/>
<line x1="340.84" y1="963.59" x2="348.24" y2="963.59" stroke="#000" stroke-width="1.6"/>
<line x1="340.84" y1="974.63" x2="348.24" y2="974.63" stroke="#000" stroke-width="1.6"/>
<line x1="356.00" y1="938.33" x2="356.00" y2="949.00" stroke="#000" stroke-width="1.6"/>
<line x1="352.30" y1="938.33" x2="359.70" y2="938.33" stroke="#000" stroke-width="1.6"/>
<line x1="352.30" y1="949.00" x2="359.70" y2="949.00" stroke="#000" stroke-width="1.6"/>
<line x1="356.00" y1="963.03" x2="356.00" y2="974.25" stroke="#000" stroke-width="1.6"/>
<line x1="352.30" y1="963.03" x2="359.70" y2="963.03" stroke="#000" stroke-width="1.6"/>
<line x1="352.30" y1="974.25" x2="359.70" y2="974.25" stroke="#000" stroke-width="1.6"/>
<line x1="390.38" y1="940.01" x2="390.38" y2="966.21" stroke="#000" stroke-width="1.6"/>
<line x1="386.68" y1="940.01" x2="394.08" y2="940.01" stroke="#000" stroke-width="1.6"/>
<line x1="386.68" y1="957.04" x2="394.08" y2="957.04" stroke="#000" stroke-width="1.6"/>
<line x1="386.68" y1="966.21" x2="394.08" y2="966.21" stroke="#000" stroke-width="1.6"/>
<line x1="424.76" y1="935.34" x2="424.76" y2="959.10" stroke="#000" stroke-width="1.6"/>
<line x1="421.06" y1="935.34" x2="428.46" y2="935.34" stroke="#000" stroke-width="1.6"/>
<line x1="421.06" y1="946.94" x2="428.46" y2="946.94" stroke="#000" stroke-width="1.6"/>
<line x1="421.06" y1="959.10" x2="428.46" y2="959.10" stroke="#000" stroke-width="1.6"/>
<polygon points="92.42,913.41 95.92,916.81 92.42,920.21 88.92,916.81" fill="#482573"/>
<polygon points="138.26,916.03 141.76,919.43 138.26,922.83 134.76,919.43" fill="#482573"/>
<polygon points="161.18,916.03 164.68,919.43 161.18,922.83 157.68,919.43" fill="#482573"/>
<polygon points="184.10,921.65 187.60,925.05 184.10,928.45 180.60,925.05" fill="#482573"/>
<polygon points="195.56,935.68 199.06,939.08 195.56,942.48 192.06,939.08" fill="#482573"/>
<polygon points="218.48,945.22 221.98,948.62 218.48,952.02 214.98,948.62" fill="#482573"/>
<polygon points="264.32,929.13 267.82,932.53 264.32,935.93 260.82,932.53" fill="#482573"/>
<polygon points="310.16,935.68 313.66,939.08 310.16,942.48 306.66,939.08" fill="#482573"/>
<polygon points="344.54,934.93 348.04,938.33 344.54,941.73 341.04,938.33" fill="#482573"/>
<polygon points="356.00,937.55 359.50,940.95 356.00,944.35 352.50,940.95" fill="#482573"/>
<polygon points="390.38,937.92 393.88,941.32 390.38,944.72 386.88,941.32" fill="#482573"/>
<polygon points="424.76,935.30 428.26,938.70 424.76,942.10 421.26,938.70" fill="#482573"/>
<polygon points="88.72,927.04 96.12,927.04 92.42,920.14" fill="#70AC48"/>
<polygon points="134.56,927.97 141.96,927.97 138.26,921.07" fill="#70AC48"/>
<polygon points="157.48,926.48 164.88,926.48 161.18,919.58" fill="#70AC48"/>
<polygon points="180.40,930.22 187.80,930.22 184.10,923.32" fill="#70AC48"/>
<polygon points="191.86,944.25 199.26,944.25 195.56,937.35" fill="#70AC48"/>
<polygon points="214.78,962.59 222.18,962.59 218.48,955.69" fill="#70AC48"/>
<polygon points="260.62,970.63 268.02,970.63 264.32,963.73" fill="#70AC48"/>
<polygon points="306.46,974.93 313.86,974.93 310.16,968.03" fill="#70AC48"/>
<polygon points="340.84,970.63 348.24,970.63 344.54,963.73" fill="#70AC48"/>
<polygon points="352.30,971.19 359.70,971.19 356.00,964.29" fill="#70AC48"/>
<polygon points="386.68,964.27 394.08,964.27 390.38,957.37" fill="#70AC48"/>
<polygon points="421.06,957.35 428.46,957.35 424.76,950.45" fill="#70AC48"/>
<rect x="88.97" y="915.05" width="6.90" height="6.90" fill="#2A4C84"/>
<rect x="134.81" y="917.85" width="6.90" height="6.90" fill="#2A4C84"/>
<rect x="157.73" y="917.85" width="6.90" height="6.90" fill="#2A4C84"/>
<rect x="180.65" y="922.16" width="6.90" height="6.90" fill="#2A4C84"/>
<rect x="192.11" y="936.56" width="6.90" height="6.90" fill="#2A4C84"/>
<rect x="215.03" y="945.17" width="6.90" height="6.90" fill="#2A4C84"/>
<rect x="260.87" y="947.98" width="6.90" height="6.90" fill="#2A4C84"/>
<rect x="306.71" y="935.82" width="6.90" height="6.90" fill="#2A4C84"/>
<rect x="341.09" y="942.18" width="6.90" height="6.90" fill="#2A4C84"/>
<rect x="352.55" y="941.62" width="6.90" height="6.90" fill="#2A4C84"/>
<rect x="386.93" y="942.18" width="6.90" height="6.90" fill="#2A4C84"/>
<rect x="421.31" y="938.44" width="6.90" height="6.90" fill="#2A4C84"/>
<circle cx="92.42" cy="911.20" r="3.00" fill="#fff" stroke="#931236" stroke-width="1.8"/>
<circle cx="138.26" cy="915.13" r="3.00" fill="#fff" stroke="#931236" stroke-width="1.8"/>
<circle cx="161.18" cy="916.07" r="3.00" fill="#fff" stroke="#931236" stroke-width="1.8"/>
<circle cx="184.10" cy="916.63" r="3.00" fill="#fff" stroke="#931236" stroke-width="1.8"/>
<circle cx="195.56" cy="916.81" r="3.00" fill="#fff" stroke="#931236" stroke-width="1.8"/>
<circle cx="218.48" cy="918.12" r="3.00" fill="#fff" stroke="#931236" stroke-width="1.8"/>
<circle cx="264.32" cy="917.75" r="3.00" fill="#fff" stroke="#931236" stroke-width="1.8"/>
<circle cx="310.16" cy="913.45" r="3.00" fill="#fff" stroke="#931236" stroke-width="1.8"/>
<circle cx="344.54" cy="919.43" r="3.00" fill="#fff" stroke="#931236" stroke-width="1.8"/>
<circle cx="356.00" cy="922.24" r="3.00" fill="#fff" stroke="#931236" stroke-width="1.8"/>
<circle cx="390.38" cy="920.93" r="3.00" fill="#fff" stroke="#931236" stroke-width="1.8"/>
<circle cx="424.76" cy="918.69" r="3.00" fill="#fff" stroke="#931236" stroke-width="1.8"/>
<polygon points="317.20,976.30 317.91,978.03 319.77,978.17 318.34,979.37 318.79,981.18 317.20,980.20 315.61,981.18 316.06,979.37 314.63,978.17 316.49,978.03" fill="#111"/>
<line x1="367.20" y1="849.50" x2="386.70" y2="849.50" stroke="#931236" stroke-width="2.2"/>
<circle cx="377.00" cy="849.50" r="3.00" fill="#fff" stroke="#931236" stroke-width="1.8"/>
<text x="390.3" y="852.50" font-size="11.0" textLength="34.6" lengthAdjust="spacingAndGlyphs">Vehicle</text>
<line x1="367.20" y1="866.80" x2="386.70" y2="866.80" stroke="#213E6C" stroke-width="2.2"/>
<rect x="373.55" y="863.35" width="6.90" height="6.90" fill="#2A4C84"/>
<text x="390.3" y="869.80" font-size="11.0" textLength="70.8" lengthAdjust="spacingAndGlyphs">CYP 60mg/kg</text>
<line x1="367.20" y1="883.60" x2="386.70" y2="883.60" stroke="#72AE4A" stroke-width="2.2"/>
<polygon points="373.30,886.90 380.70,886.90 377.00,880.00" fill="#70AC48"/>
<text x="390.3" y="886.60" font-size="11.0" textLength="91.1" lengthAdjust="spacingAndGlyphs">CYP&amp;329 3mg/kg</text>
<line x1="367.20" y1="900.90" x2="386.70" y2="900.90" stroke="#3F1F5E" stroke-width="2.2"/>
<polygon points="377.00,897.50 380.50,900.90 377.00,904.30 373.50,900.90" fill="#482573"/>
<text x="390.3" y="903.90" font-size="11.0" textLength="108.4" lengthAdjust="spacingAndGlyphs">CYP&amp;GCSF 10µg/kg</text>
<rect x="0" y="0" width="520" height="2" fill="#000"/><rect x="0" y="0" width="2.1" height="1091" fill="#000"/><rect x="518" y="0" width="2" height="1091" fill="#000"/><rect x="0" y="1088.7" width="520" height="2.3" fill="#000"/>
</svg></body></html>
